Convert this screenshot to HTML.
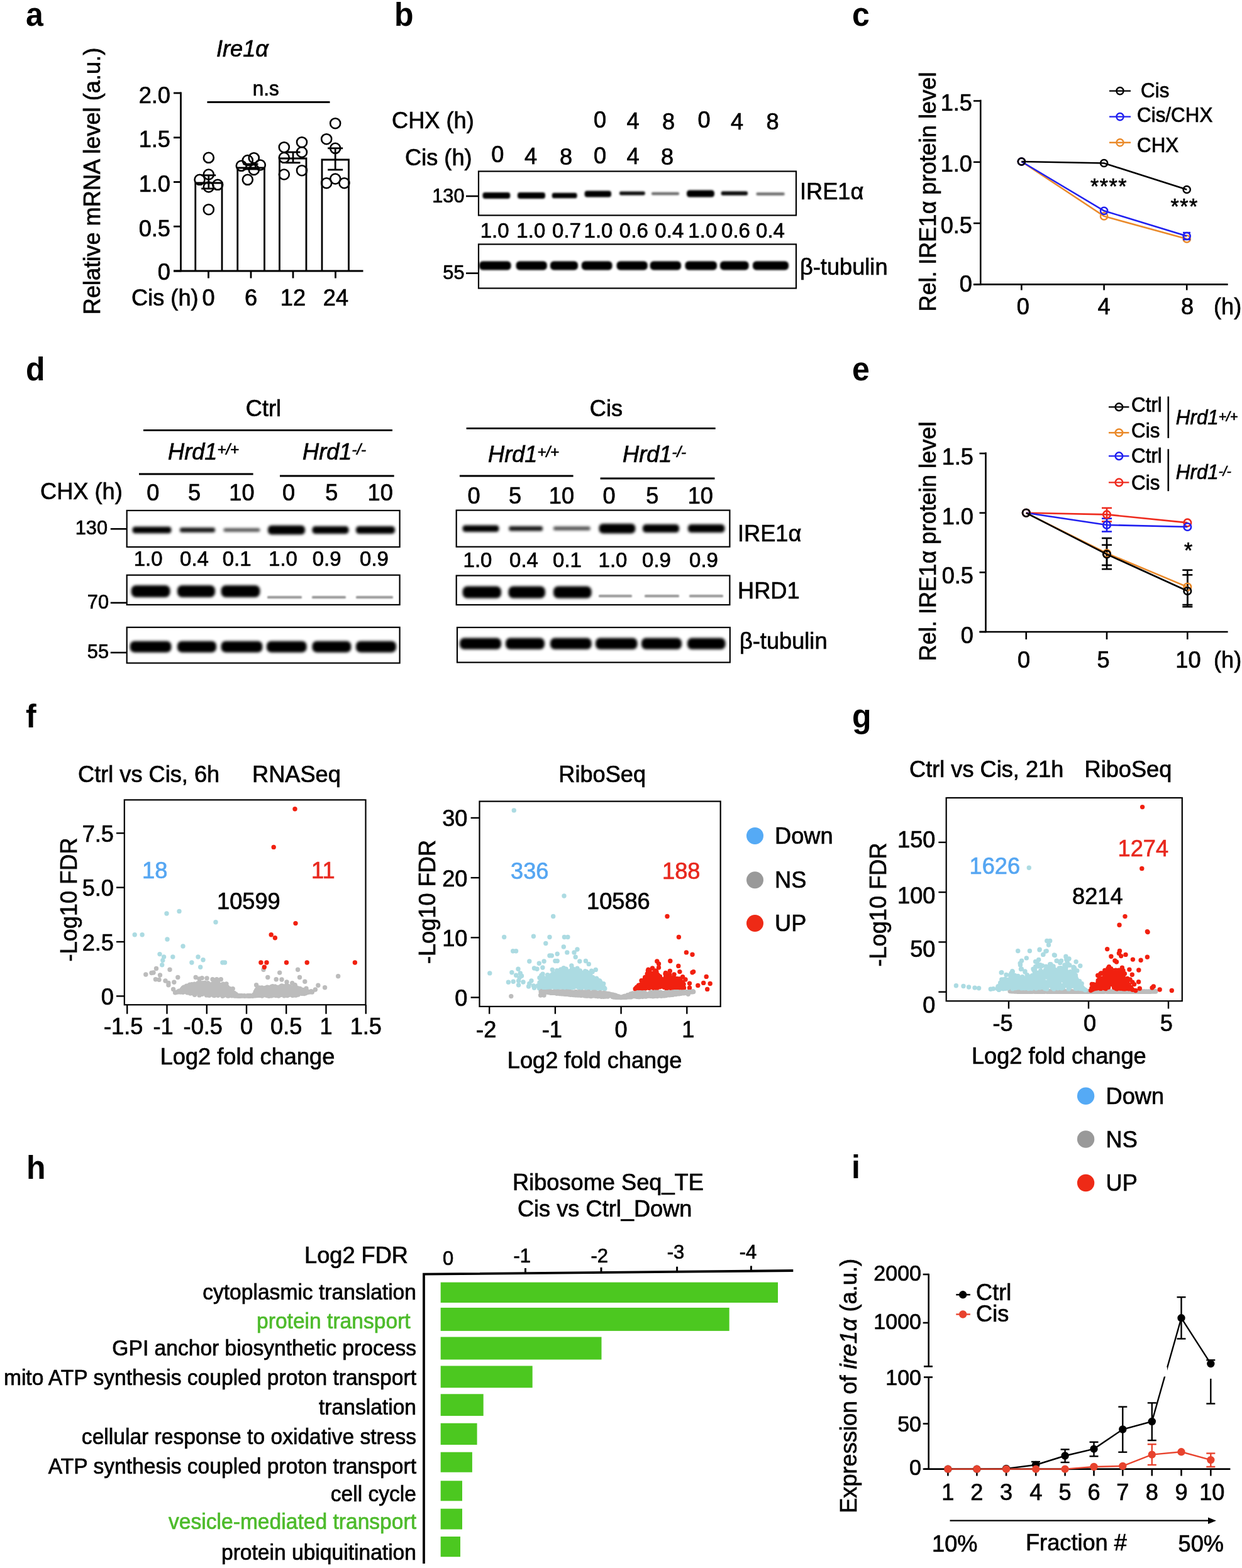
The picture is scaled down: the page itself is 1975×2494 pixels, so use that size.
<!DOCTYPE html><html><head><meta charset="utf-8"><title>Figure</title><style>html,body{margin:0;padding:0;background:#fff;}svg{display:block;}svg{font-family:"Liberation Sans",Arial,sans-serif;font-size:36.2px;}.b{font-weight:bold;}.i{font-style:italic;}</style></head><body><svg width="1975" height="2494" viewBox="0 0 1975 2494"><defs><filter id="bl12" x="-20%" y="-100%" width="140%" height="300%"><feGaussianBlur stdDeviation="1.2"/></filter><filter id="bl16" x="-20%" y="-100%" width="140%" height="300%"><feGaussianBlur stdDeviation="1.6"/></filter><filter id="bl22" x="-20%" y="-100%" width="140%" height="300%"><feGaussianBlur stdDeviation="2.2"/></filter></defs><rect width="100%" height="100%" fill="#fff"/><text transform="translate(41.0 41.0) scale(1 1.035)" font-size="50" class="b">a</text>
<text transform="translate(344.0 89.5) scale(1 1.035)" class="i" stroke="#000" stroke-width="0.7">Ire1α</text>
<text transform="translate(422.7 151.5) scale(1 1.035)" text-anchor="middle" font-size="31.5" stroke="#000" stroke-width="0.7">n.s</text>
<line x1="329.5" y1="162.5" x2="524.5" y2="162.5" stroke="#000" stroke-width="3"/>
<line x1="287.5" y1="146.5" x2="287.5" y2="432.3" stroke="#000" stroke-width="2.8"/>
<line x1="276.0" y1="431.0" x2="577.5" y2="431.0" stroke="#000" stroke-width="2.8"/>
<line x1="276.0" y1="431.0" x2="287.5" y2="431.0" stroke="#000" stroke-width="2.8"/>
<text transform="translate(271.0 444.5) scale(1 1.035)" text-anchor="end" stroke="#000" stroke-width="0.7">0</text>
<line x1="276.0" y1="360.2" x2="287.5" y2="360.2" stroke="#000" stroke-width="2.8"/>
<text transform="translate(271.0 375.8) scale(1 1.035)" text-anchor="end" stroke="#000" stroke-width="0.7">0.5</text>
<line x1="276.0" y1="289.5" x2="287.5" y2="289.5" stroke="#000" stroke-width="2.8"/>
<text transform="translate(271.0 305.0) scale(1 1.035)" text-anchor="end" stroke="#000" stroke-width="0.7">1.0</text>
<line x1="276.0" y1="218.8" x2="287.5" y2="218.8" stroke="#000" stroke-width="2.8"/>
<text transform="translate(271.0 234.2) scale(1 1.035)" text-anchor="end" stroke="#000" stroke-width="0.7">1.5</text>
<line x1="276.0" y1="148.0" x2="287.5" y2="148.0" stroke="#000" stroke-width="2.8"/>
<text transform="translate(271.0 163.5) scale(1 1.035)" text-anchor="end" stroke="#000" stroke-width="0.7">2.0</text>
<text transform="translate(331.5 486.0) scale(1 1.035)" text-anchor="middle" stroke="#000" stroke-width="0.7">0</text>
<text transform="translate(399.0 486.0) scale(1 1.035)" text-anchor="middle" stroke="#000" stroke-width="0.7">6</text>
<text transform="translate(466.0 486.0) scale(1 1.035)" text-anchor="middle" stroke="#000" stroke-width="0.7">12</text>
<text transform="translate(534.0 486.0) scale(1 1.035)" text-anchor="middle" stroke="#000" stroke-width="0.7">24</text>
<text transform="translate(209.0 486.0) scale(1 1.035)" stroke="#000" stroke-width="0.7">Cis (h)</text>
<line x1="331.5" y1="431.0" x2="331.5" y2="442.5" stroke="#000" stroke-width="2.8"/>
<line x1="399.0" y1="431.0" x2="399.0" y2="442.5" stroke="#000" stroke-width="2.8"/>
<line x1="466.0" y1="431.0" x2="466.0" y2="442.5" stroke="#000" stroke-width="2.8"/>
<line x1="533.5" y1="431.0" x2="533.5" y2="442.5" stroke="#000" stroke-width="2.8"/>
<text transform="translate(158.5 288.0) rotate(-90) scale(1 1.035)" text-anchor="middle" stroke="#000" stroke-width="0.7">Relative mRNA level (a.u.)</text>
<path d="M310.75 431V291H353V431" stroke="#000" stroke-width="2.8" fill="none"/>
<path d="M377.75 431V267H420.5V431" stroke="#000" stroke-width="2.8" fill="none"/>
<path d="M444.5 431V252H487V431" stroke="#000" stroke-width="2.8" fill="none"/>
<path d="M512 431V254H554.5V431" stroke="#000" stroke-width="2.8" fill="none"/>
<circle cx="331.8" cy="250.8" r="8.0" fill="none" stroke="#000" stroke-width="2.6"/>
<circle cx="331.8" cy="277.5" r="8.0" fill="none" stroke="#000" stroke-width="2.6"/>
<circle cx="317.5" cy="285.8" r="8.0" fill="none" stroke="#000" stroke-width="2.6"/>
<circle cx="346.2" cy="293.8" r="8.0" fill="none" stroke="#000" stroke-width="2.6"/>
<circle cx="331.8" cy="297.5" r="8.0" fill="none" stroke="#000" stroke-width="2.6"/>
<circle cx="331.8" cy="333.2" r="8.0" fill="none" stroke="#000" stroke-width="2.6"/>
<circle cx="393.8" cy="255.0" r="8.0" fill="none" stroke="#000" stroke-width="2.6"/>
<circle cx="403.8" cy="251.2" r="8.0" fill="none" stroke="#000" stroke-width="2.6"/>
<circle cx="383.8" cy="263.8" r="8.0" fill="none" stroke="#000" stroke-width="2.6"/>
<circle cx="413.8" cy="262.5" r="8.0" fill="none" stroke="#000" stroke-width="2.6"/>
<circle cx="403.8" cy="270.0" r="8.0" fill="none" stroke="#000" stroke-width="2.6"/>
<circle cx="393.8" cy="285.8" r="8.0" fill="none" stroke="#000" stroke-width="2.6"/>
<circle cx="451.8" cy="234.2" r="8.0" fill="none" stroke="#000" stroke-width="2.6"/>
<circle cx="480.0" cy="226.2" r="8.0" fill="none" stroke="#000" stroke-width="2.6"/>
<circle cx="480.0" cy="242.0" r="8.0" fill="none" stroke="#000" stroke-width="2.6"/>
<circle cx="451.8" cy="250.8" r="8.0" fill="none" stroke="#000" stroke-width="2.6"/>
<circle cx="480.0" cy="271.2" r="8.0" fill="none" stroke="#000" stroke-width="2.6"/>
<circle cx="451.8" cy="277.5" r="8.0" fill="none" stroke="#000" stroke-width="2.6"/>
<circle cx="533.2" cy="196.2" r="8.0" fill="none" stroke="#000" stroke-width="2.6"/>
<circle cx="519.2" cy="221.2" r="8.0" fill="none" stroke="#000" stroke-width="2.6"/>
<circle cx="533.2" cy="235.8" r="8.0" fill="none" stroke="#000" stroke-width="2.6"/>
<circle cx="519.2" cy="291.2" r="8.0" fill="none" stroke="#000" stroke-width="2.6"/>
<circle cx="533.2" cy="284.5" r="8.0" fill="none" stroke="#000" stroke-width="2.6"/>
<circle cx="547.5" cy="291.2" r="8.0" fill="none" stroke="#000" stroke-width="2.6"/>
<line x1="331.8" y1="300.0" x2="331.8" y2="278.8" stroke="#000" stroke-width="2.8"/>
<line x1="320.2" y1="300.0" x2="343.2" y2="300.0" stroke="#000" stroke-width="2.8"/>
<line x1="320.2" y1="278.8" x2="343.2" y2="278.8" stroke="#000" stroke-width="2.8"/>
<line x1="398.5" y1="269.0" x2="398.5" y2="261.0" stroke="#000" stroke-width="2.8"/>
<line x1="386.5" y1="269.0" x2="410.5" y2="269.0" stroke="#000" stroke-width="2.8"/>
<line x1="386.5" y1="261.0" x2="410.5" y2="261.0" stroke="#000" stroke-width="2.8"/>
<line x1="466.0" y1="258.8" x2="466.0" y2="242.0" stroke="#000" stroke-width="2.8"/>
<line x1="454.5" y1="258.8" x2="477.5" y2="258.8" stroke="#000" stroke-width="2.8"/>
<line x1="454.5" y1="242.0" x2="477.5" y2="242.0" stroke="#000" stroke-width="2.8"/>
<line x1="533.2" y1="270.0" x2="533.2" y2="235.8" stroke="#000" stroke-width="2.8"/>
<line x1="521.2" y1="270.0" x2="545.2" y2="270.0" stroke="#000" stroke-width="2.8"/>
<line x1="521.2" y1="235.8" x2="545.2" y2="235.8" stroke="#000" stroke-width="2.8"/>
<text transform="translate(627.0 41.0) scale(1 1.035)" font-size="50" class="b">b</text>
<text transform="translate(623.0 204.0) scale(1 1.035)" stroke="#000" stroke-width="0.7">CHX (h)</text>
<text transform="translate(644.0 263.0) scale(1 1.035)" stroke="#000" stroke-width="0.7">Cis (h)</text>
<text transform="translate(954.0 203.0) scale(1 1.035)" text-anchor="middle" stroke="#000" stroke-width="0.7">0</text>
<text transform="translate(1006.6 204.5) scale(1 1.035)" text-anchor="middle" stroke="#000" stroke-width="0.7">4</text>
<text transform="translate(1063.0 205.5) scale(1 1.035)" text-anchor="middle" stroke="#000" stroke-width="0.7">8</text>
<text transform="translate(1119.6 202.5) scale(1 1.035)" text-anchor="middle" stroke="#000" stroke-width="0.7">0</text>
<text transform="translate(1172.0 206.0) scale(1 1.035)" text-anchor="middle" stroke="#000" stroke-width="0.7">4</text>
<text transform="translate(1228.6 206.0) scale(1 1.035)" text-anchor="middle" stroke="#000" stroke-width="0.7">8</text>
<text transform="translate(791.4 258.0) scale(1 1.035)" text-anchor="middle" stroke="#000" stroke-width="0.7">0</text>
<text transform="translate(844.0 261.0) scale(1 1.035)" text-anchor="middle" stroke="#000" stroke-width="0.7">4</text>
<text transform="translate(900.0 262.0) scale(1 1.035)" text-anchor="middle" stroke="#000" stroke-width="0.7">8</text>
<text transform="translate(954.0 260.0) scale(1 1.035)" text-anchor="middle" stroke="#000" stroke-width="0.7">0</text>
<text transform="translate(1006.6 261.0) scale(1 1.035)" text-anchor="middle" stroke="#000" stroke-width="0.7">4</text>
<text transform="translate(1061.0 262.0) scale(1 1.035)" text-anchor="middle" stroke="#000" stroke-width="0.7">8</text>
<rect x="761.0" y="272.5" width="505.0" height="70.0" fill="none" stroke="#000" stroke-width="2.2"/>
<rect x="761.0" y="388.5" width="505.0" height="70.0" fill="none" stroke="#000" stroke-width="2.2"/>
<text transform="translate(738.5 321.9) scale(1 1.035)" text-anchor="end" font-size="30.7" stroke="#000" stroke-width="0.7">130</text>
<line x1="741.0" y1="312.0" x2="761.0" y2="312.0" stroke="#000" stroke-width="2.6"/>
<text transform="translate(738.5 444.0) scale(1 1.035)" text-anchor="end" font-size="30.7" stroke="#000" stroke-width="0.7">55</text>
<line x1="741.0" y1="434.6" x2="761.0" y2="434.6" stroke="#000" stroke-width="2.6"/>
<text transform="translate(1272.0 317.0) scale(1 1.035)" stroke="#000" stroke-width="0.7">IRE1α</text>
<text transform="translate(1272.0 436.5) scale(1 1.035)" stroke="#000" stroke-width="0.7">β-tubulin</text>
<text transform="translate(786.7 377.7) scale(1 1.035)" text-anchor="middle" font-size="33" stroke="#000" stroke-width="0.7">1.0</text>
<text transform="translate(844.3 377.7) scale(1 1.035)" text-anchor="middle" font-size="33" stroke="#000" stroke-width="0.7">1.0</text>
<text transform="translate(901.0 377.7) scale(1 1.035)" text-anchor="middle" font-size="33" stroke="#000" stroke-width="0.7">0.7</text>
<text transform="translate(951.5 377.7) scale(1 1.035)" text-anchor="middle" font-size="33" stroke="#000" stroke-width="0.7">1.0</text>
<text transform="translate(1007.8 377.7) scale(1 1.035)" text-anchor="middle" font-size="33" stroke="#000" stroke-width="0.7">0.6</text>
<text transform="translate(1064.3 377.7) scale(1 1.035)" text-anchor="middle" font-size="33" stroke="#000" stroke-width="0.7">0.4</text>
<text transform="translate(1117.3 377.7) scale(1 1.035)" text-anchor="middle" font-size="33" stroke="#000" stroke-width="0.7">1.0</text>
<text transform="translate(1170.0 377.7) scale(1 1.035)" text-anchor="middle" font-size="33" stroke="#000" stroke-width="0.7">0.6</text>
<text transform="translate(1225.0 377.7) scale(1 1.035)" text-anchor="middle" font-size="33" stroke="#000" stroke-width="0.7">0.4</text>
<rect x="767.5" y="306.0" width="43.8" height="10.0" rx="4.0" fill="#000" fill-opacity="1.0" filter="url(#bl16)"/>
<rect x="823.0" y="306.0" width="44.0" height="10.0" rx="4.0" fill="#000" fill-opacity="1.0" filter="url(#bl16)"/>
<rect x="877.8" y="306.8" width="39.8" height="8.5" rx="3.4" fill="#000" fill-opacity="1.0" filter="url(#bl16)"/>
<rect x="929.6" y="303.5" width="42.4" height="10.0" rx="4.0" fill="#000" fill-opacity="1.0" filter="url(#bl16)"/>
<rect x="985.0" y="304.5" width="40.8" height="6.0" rx="2.4" fill="#000" fill-opacity="0.95" filter="url(#bl16)"/>
<rect x="1036.0" y="305.8" width="44.0" height="4.5" rx="1.8" fill="#000" fill-opacity="0.6" filter="url(#bl16)"/>
<rect x="1092.0" y="302.5" width="44.0" height="11.0" rx="4.4" fill="#000" fill-opacity="1.0" filter="url(#bl16)"/>
<rect x="1146.7" y="304.2" width="42.3" height="6.5" rx="2.6" fill="#000" fill-opacity="0.95" filter="url(#bl16)"/>
<rect x="1202.5" y="306.2" width="45.2" height="4.5" rx="1.8" fill="#000" fill-opacity="0.6" filter="url(#bl16)"/>
<rect x="762.0" y="415.5" width="50.6" height="14.0" rx="5.6" fill="#000" fill-opacity="1.0" filter="url(#bl16)"/>
<rect x="820.6" y="415.5" width="49.2" height="14.0" rx="5.6" fill="#000" fill-opacity="1.0" filter="url(#bl16)"/>
<rect x="875.0" y="415.5" width="44.0" height="14.0" rx="5.6" fill="#000" fill-opacity="1.0" filter="url(#bl16)"/>
<rect x="924.8" y="415.5" width="48.7" height="14.0" rx="5.6" fill="#000" fill-opacity="1.0" filter="url(#bl16)"/>
<rect x="980.6" y="415.5" width="49.1" height="14.0" rx="5.6" fill="#000" fill-opacity="1.0" filter="url(#bl16)"/>
<rect x="1033.7" y="415.5" width="49.3" height="14.0" rx="5.6" fill="#000" fill-opacity="1.0" filter="url(#bl16)"/>
<rect x="1089.5" y="415.5" width="50.5" height="14.0" rx="5.6" fill="#000" fill-opacity="1.0" filter="url(#bl16)"/>
<rect x="1145.0" y="415.5" width="45.6" height="14.0" rx="5.6" fill="#000" fill-opacity="1.0" filter="url(#bl16)"/>
<rect x="1197.0" y="415.5" width="57.0" height="14.0" rx="5.6" fill="#000" fill-opacity="1.0" filter="url(#bl16)"/>
<text transform="translate(1355.0 41.0) scale(1 1.035)" font-size="50" class="b">c</text>
<line x1="1559.3" y1="158.8" x2="1559.3" y2="453.6" stroke="#000" stroke-width="2.6"/>
<line x1="1548.0" y1="452.4" x2="1952.6" y2="452.4" stroke="#000" stroke-width="2.6"/>
<line x1="1548.0" y1="452.4" x2="1559.3" y2="452.4" stroke="#000" stroke-width="2.6"/>
<text transform="translate(1546.0 464.4) scale(1 1.035)" text-anchor="end" stroke="#000" stroke-width="0.7">0</text>
<line x1="1548.0" y1="355.1" x2="1559.3" y2="355.1" stroke="#000" stroke-width="2.6"/>
<text transform="translate(1546.0 370.6) scale(1 1.035)" text-anchor="end" stroke="#000" stroke-width="0.7">0.5</text>
<line x1="1548.0" y1="257.8" x2="1559.3" y2="257.8" stroke="#000" stroke-width="2.6"/>
<text transform="translate(1546.0 273.3) scale(1 1.035)" text-anchor="end" stroke="#000" stroke-width="0.7">1.0</text>
<line x1="1548.0" y1="160.5" x2="1559.3" y2="160.5" stroke="#000" stroke-width="2.6"/>
<text transform="translate(1546.0 176.0) scale(1 1.035)" text-anchor="end" stroke="#000" stroke-width="0.7">1.5</text>
<line x1="1624.4" y1="452.4" x2="1624.4" y2="461.5" stroke="#000" stroke-width="2.6"/>
<text transform="translate(1626.9 500.0) scale(1 1.035)" text-anchor="middle" stroke="#000" stroke-width="0.7">0</text>
<line x1="1755.6" y1="452.4" x2="1755.6" y2="461.5" stroke="#000" stroke-width="2.6"/>
<text transform="translate(1755.6 500.0) scale(1 1.035)" text-anchor="middle" stroke="#000" stroke-width="0.7">4</text>
<line x1="1887.2" y1="452.4" x2="1887.2" y2="461.5" stroke="#000" stroke-width="2.6"/>
<text transform="translate(1888.0 500.0) scale(1 1.035)" text-anchor="middle" stroke="#000" stroke-width="0.7">8</text>
<text transform="translate(1930.0 500.0) scale(1 1.035)" stroke="#000" stroke-width="0.7">(h)</text>
<text transform="translate(1487.5 305.0) rotate(-90) scale(1 1.035)" text-anchor="middle" stroke="#000" stroke-width="0.7">Rel. IRE1α protein level</text>
<path d="M1624.4 257L1755.6 343.9L1887.2 380" stroke="#ea8a2a" stroke-width="2.6" fill="none"/>
<circle cx="1624.4" cy="257.0" r="5.6" fill="none" stroke="#ea8a2a" stroke-width="2.5"/>
<circle cx="1755.6" cy="343.9" r="5.6" fill="none" stroke="#ea8a2a" stroke-width="2.5"/>
<circle cx="1887.2" cy="380.0" r="5.6" fill="none" stroke="#ea8a2a" stroke-width="2.5"/>
<path d="M1624.4 257L1755.6 335.3L1887.2 375.5" stroke="#2020f0" stroke-width="2.6" fill="none"/>
<circle cx="1624.4" cy="257.0" r="5.6" fill="none" stroke="#2020f0" stroke-width="2.5"/>
<circle cx="1755.6" cy="335.3" r="5.6" fill="none" stroke="#2020f0" stroke-width="2.5"/>
<circle cx="1887.2" cy="375.5" r="5.6" fill="none" stroke="#2020f0" stroke-width="2.5"/>
<path d="M1624.4 257L1755.6 259.5L1887.2 301.5" stroke="#000" stroke-width="2.6" fill="none"/>
<circle cx="1624.4" cy="257.0" r="5.6" fill="none" stroke="#000" stroke-width="2.5"/>
<circle cx="1755.6" cy="259.5" r="5.6" fill="none" stroke="#000" stroke-width="2.5"/>
<circle cx="1887.2" cy="301.5" r="5.6" fill="none" stroke="#000" stroke-width="2.5"/>
<line x1="1881.0" y1="370.0" x2="1893.0" y2="370.0" stroke="#2020f0" stroke-width="2.4"/>
<line x1="1881.0" y1="381.0" x2="1893.0" y2="381.0" stroke="#2020f0" stroke-width="2.4"/>
<text transform="translate(1734.0 307.6) scale(1 1.035)" font-size="34" stroke="#000" stroke-width="0.7" letter-spacing="1.5">****</text>
<text transform="translate(1861.5 340.2) scale(1 1.035)" font-size="34" stroke="#000" stroke-width="0.7" letter-spacing="1.5">***</text>
<line x1="1764.0" y1="144.6" x2="1798.0" y2="144.6" stroke="#000" stroke-width="2.4"/>
<circle cx="1781.0" cy="144.6" r="5.6" fill="none" stroke="#000" stroke-width="2.4"/>
<text transform="translate(1814.0 154.5) scale(1 1.035)" font-size="31.4" stroke="#000" stroke-width="0.7">Cis</text>
<line x1="1764.0" y1="185.6" x2="1798.0" y2="185.6" stroke="#2020f0" stroke-width="2.4"/>
<circle cx="1781.0" cy="185.6" r="5.6" fill="none" stroke="#2020f0" stroke-width="2.4"/>
<text transform="translate(1808.0 194.4) scale(1 1.035)" font-size="31.4" stroke="#000" stroke-width="0.7">Cis/CHX</text>
<line x1="1764.0" y1="226.8" x2="1798.0" y2="226.8" stroke="#ea8a2a" stroke-width="2.4"/>
<circle cx="1781.0" cy="226.8" r="5.6" fill="none" stroke="#ea8a2a" stroke-width="2.4"/>
<text transform="translate(1808.0 241.8) scale(1 1.035)" font-size="31.4" stroke="#000" stroke-width="0.7">CHX</text>
<text transform="translate(41.0 605.0) scale(1 1.035)" font-size="50" class="b">d</text>
<text transform="translate(419.0 662.4) scale(1 1.035)" text-anchor="middle" stroke="#000" stroke-width="0.7">Ctrl</text>
<line x1="228.0" y1="684.4" x2="624.0" y2="684.4" stroke="#000" stroke-width="2.8"/>
<text transform="translate(267.0 731.4) scale(1 1.035)" class="i" stroke="#000" stroke-width="0.7">Hrd1<tspan font-size="24" dy="-8">+/+</tspan></text>
<text transform="translate(481.0 731.4) scale(1 1.035)" class="i" stroke="#000" stroke-width="0.7">Hrd1<tspan font-size="24" dy="-8">-/-</tspan></text>
<line x1="221.0" y1="754.0" x2="402.6" y2="754.0" stroke="#000" stroke-width="2.8"/>
<line x1="445.0" y1="757.0" x2="626.7" y2="757.0" stroke="#000" stroke-width="2.8"/>
<text transform="translate(64.0 794.0) scale(1 1.035)" stroke="#000" stroke-width="0.7">CHX (h)</text>
<text transform="translate(243.4 796.0) scale(1 1.035)" text-anchor="middle" stroke="#000" stroke-width="0.7">0</text>
<text transform="translate(309.0 796.0) scale(1 1.035)" text-anchor="middle" stroke="#000" stroke-width="0.7">5</text>
<text transform="translate(384.5 796.0) scale(1 1.035)" text-anchor="middle" stroke="#000" stroke-width="0.7">10</text>
<text transform="translate(459.0 796.0) scale(1 1.035)" text-anchor="middle" stroke="#000" stroke-width="0.7">0</text>
<text transform="translate(527.4 796.0) scale(1 1.035)" text-anchor="middle" stroke="#000" stroke-width="0.7">5</text>
<text transform="translate(604.7 796.0) scale(1 1.035)" text-anchor="middle" stroke="#000" stroke-width="0.7">10</text>
<rect x="201.7" y="812.0" width="433.9" height="58.0" fill="none" stroke="#000" stroke-width="2.2"/>
<rect x="201.7" y="914.7" width="433.9" height="47.2" fill="none" stroke="#000" stroke-width="2.2"/>
<rect x="201.7" y="997.8" width="433.9" height="56.8" fill="none" stroke="#000" stroke-width="2.2"/>
<text transform="translate(171.0 850.0) scale(1 1.035)" text-anchor="end" font-size="30.7" stroke="#000" stroke-width="0.7">130</text>
<line x1="175.8" y1="841.3" x2="201.7" y2="841.3" stroke="#000" stroke-width="2.6"/>
<text transform="translate(173.0 967.6) scale(1 1.035)" text-anchor="end" font-size="30.7" stroke="#000" stroke-width="0.7">70</text>
<line x1="175.8" y1="958.8" x2="201.7" y2="958.8" stroke="#000" stroke-width="2.6"/>
<text transform="translate(173.0 1046.5) scale(1 1.035)" text-anchor="end" font-size="30.7" stroke="#000" stroke-width="0.7">55</text>
<line x1="175.8" y1="1038.0" x2="201.7" y2="1038.0" stroke="#000" stroke-width="2.6"/>
<text transform="translate(235.7 900.0) scale(1 1.035)" text-anchor="middle" font-size="33" stroke="#000" stroke-width="0.7">1.0</text>
<text transform="translate(309.0 900.0) scale(1 1.035)" text-anchor="middle" font-size="33" stroke="#000" stroke-width="0.7">0.4</text>
<text transform="translate(376.7 900.0) scale(1 1.035)" text-anchor="middle" font-size="33" stroke="#000" stroke-width="0.7">0.1</text>
<text transform="translate(450.0 900.0) scale(1 1.035)" text-anchor="middle" font-size="33" stroke="#000" stroke-width="0.7">1.0</text>
<text transform="translate(519.7 900.0) scale(1 1.035)" text-anchor="middle" font-size="33" stroke="#000" stroke-width="0.7">0.9</text>
<text transform="translate(595.0 900.0) scale(1 1.035)" text-anchor="middle" font-size="33" stroke="#000" stroke-width="0.7">0.9</text>
<rect x="210.6" y="837.8" width="61.8" height="10.5" rx="4.2" fill="#000" fill-opacity="1.0" filter="url(#bl22)"/>
<rect x="286.0" y="839.2" width="56.0" height="7.5" rx="3.0" fill="#000" fill-opacity="0.92" filter="url(#bl22)"/>
<rect x="355.5" y="840.2" width="57.9" height="5.5" rx="2.2" fill="#000" fill-opacity="0.7" filter="url(#bl22)"/>
<rect x="426.0" y="835.8" width="59.0" height="14.5" rx="5.8" fill="#000" fill-opacity="1.0" filter="url(#bl22)"/>
<rect x="496.5" y="837.0" width="58.0" height="12.0" rx="4.8" fill="#000" fill-opacity="1.0" filter="url(#bl22)"/>
<rect x="566.0" y="837.0" width="62.0" height="12.0" rx="4.8" fill="#000" fill-opacity="1.0" filter="url(#bl22)"/>
<rect x="208.7" y="931.1" width="61.8" height="19.0" rx="7.6" fill="#000" fill-opacity="1.0" filter="url(#bl22)"/>
<rect x="282.0" y="931.1" width="60.0" height="19.0" rx="7.6" fill="#000" fill-opacity="1.0" filter="url(#bl22)"/>
<rect x="351.6" y="931.1" width="61.8" height="19.0" rx="7.6" fill="#000" fill-opacity="1.0" filter="url(#bl22)"/>
<rect x="425.0" y="948.0" width="55.0" height="4.0" rx="1.6" fill="#000" fill-opacity="0.42" filter="url(#bl12)"/>
<rect x="496.0" y="948.0" width="54.0" height="4.0" rx="1.6" fill="#000" fill-opacity="0.42" filter="url(#bl12)"/>
<rect x="566.0" y="948.0" width="59.0" height="4.0" rx="1.6" fill="#000" fill-opacity="0.42" filter="url(#bl12)"/>
<rect x="206.7" y="1019.7" width="65.7" height="18.0" rx="7.2" fill="#000" fill-opacity="1.0" filter="url(#bl22)"/>
<rect x="282.0" y="1019.7" width="62.0" height="18.0" rx="7.2" fill="#000" fill-opacity="1.0" filter="url(#bl22)"/>
<rect x="351.6" y="1019.7" width="65.7" height="18.0" rx="7.2" fill="#000" fill-opacity="1.0" filter="url(#bl22)"/>
<rect x="424.0" y="1019.7" width="63.6" height="18.0" rx="7.2" fill="#000" fill-opacity="1.0" filter="url(#bl22)"/>
<rect x="496.5" y="1019.7" width="61.8" height="18.0" rx="7.2" fill="#000" fill-opacity="1.0" filter="url(#bl22)"/>
<rect x="566.0" y="1019.7" width="64.0" height="18.0" rx="7.2" fill="#000" fill-opacity="1.0" filter="url(#bl22)"/>
<text transform="translate(964.0 661.5) scale(1 1.035)" text-anchor="middle" stroke="#000" stroke-width="0.7">Cis</text>
<line x1="741.6" y1="681.4" x2="1137.7" y2="681.4" stroke="#000" stroke-width="2.8"/>
<text transform="translate(776.0 735.0) scale(1 1.035)" class="i" stroke="#000" stroke-width="0.7">Hrd1<tspan font-size="24" dy="-8">+/+</tspan></text>
<text transform="translate(990.0 735.0) scale(1 1.035)" class="i" stroke="#000" stroke-width="0.7">Hrd1<tspan font-size="24" dy="-8">-/-</tspan></text>
<line x1="730.9" y1="757.0" x2="911.6" y2="757.0" stroke="#000" stroke-width="2.8"/>
<line x1="954.6" y1="761.0" x2="1136.5" y2="761.0" stroke="#000" stroke-width="2.8"/>
<text transform="translate(753.5 800.8) scale(1 1.035)" text-anchor="middle" stroke="#000" stroke-width="0.7">0</text>
<text transform="translate(819.0 800.8) scale(1 1.035)" text-anchor="middle" stroke="#000" stroke-width="0.7">5</text>
<text transform="translate(892.9 800.8) scale(1 1.035)" text-anchor="middle" stroke="#000" stroke-width="0.7">10</text>
<text transform="translate(968.5 800.8) scale(1 1.035)" text-anchor="middle" stroke="#000" stroke-width="0.7">0</text>
<text transform="translate(1037.4 800.8) scale(1 1.035)" text-anchor="middle" stroke="#000" stroke-width="0.7">5</text>
<text transform="translate(1113.8 800.8) scale(1 1.035)" text-anchor="middle" stroke="#000" stroke-width="0.7">10</text>
<rect x="725.7" y="811.6" width="434.7" height="58.1" fill="none" stroke="#000" stroke-width="2.2"/>
<rect x="725.7" y="915.5" width="434.7" height="46.5" fill="none" stroke="#000" stroke-width="2.2"/>
<rect x="727.0" y="998.0" width="433.8" height="55.6" fill="none" stroke="#000" stroke-width="2.2"/>
<text transform="translate(1173.0 860.6) scale(1 1.035)" stroke="#000" stroke-width="0.7">IRE1α</text>
<text transform="translate(1173.0 952.0) scale(1 1.035)" stroke="#000" stroke-width="0.7">HRD1</text>
<text transform="translate(1176.0 1031.7) scale(1 1.035)" stroke="#000" stroke-width="0.7">β-tubulin</text>
<text transform="translate(759.5 901.6) scale(1 1.035)" text-anchor="middle" font-size="33" stroke="#000" stroke-width="0.7">1.0</text>
<text transform="translate(833.0 901.6) scale(1 1.035)" text-anchor="middle" font-size="33" stroke="#000" stroke-width="0.7">0.4</text>
<text transform="translate(902.0 901.6) scale(1 1.035)" text-anchor="middle" font-size="33" stroke="#000" stroke-width="0.7">0.1</text>
<text transform="translate(974.5 901.6) scale(1 1.035)" text-anchor="middle" font-size="33" stroke="#000" stroke-width="0.7">1.0</text>
<text transform="translate(1044.0 901.6) scale(1 1.035)" text-anchor="middle" font-size="33" stroke="#000" stroke-width="0.7">0.9</text>
<text transform="translate(1119.0 901.6) scale(1 1.035)" text-anchor="middle" font-size="33" stroke="#000" stroke-width="0.7">0.9</text>
<rect x="735.6" y="835.4" width="57.8" height="10.5" rx="4.2" fill="#000" fill-opacity="1.0" filter="url(#bl22)"/>
<rect x="809.3" y="836.9" width="53.7" height="7.5" rx="3.0" fill="#000" fill-opacity="0.92" filter="url(#bl22)"/>
<rect x="880.0" y="837.6" width="58.7" height="6.0" rx="2.4" fill="#000" fill-opacity="0.7" filter="url(#bl22)"/>
<rect x="952.6" y="832.9" width="57.7" height="15.5" rx="6.2" fill="#000" fill-opacity="1.0" filter="url(#bl22)"/>
<rect x="1022.0" y="834.1" width="58.0" height="13.0" rx="5.2" fill="#000" fill-opacity="1.0" filter="url(#bl22)"/>
<rect x="1094.0" y="834.1" width="58.4" height="13.0" rx="5.2" fill="#000" fill-opacity="1.0" filter="url(#bl22)"/>
<rect x="735.6" y="932.5" width="61.4" height="19.0" rx="7.6" fill="#000" fill-opacity="1.0" filter="url(#bl22)"/>
<rect x="808.5" y="932.5" width="58.5" height="19.0" rx="7.6" fill="#000" fill-opacity="1.0" filter="url(#bl22)"/>
<rect x="880.0" y="932.5" width="60.6" height="19.0" rx="7.6" fill="#000" fill-opacity="1.0" filter="url(#bl22)"/>
<rect x="952.0" y="946.0" width="53.0" height="4.0" rx="1.6" fill="#000" fill-opacity="0.42" filter="url(#bl12)"/>
<rect x="1025.0" y="946.0" width="55.0" height="4.0" rx="1.6" fill="#000" fill-opacity="0.42" filter="url(#bl12)"/>
<rect x="1096.0" y="946.0" width="54.0" height="4.0" rx="1.6" fill="#000" fill-opacity="0.42" filter="url(#bl12)"/>
<rect x="731.0" y="1014.8" width="66.0" height="18.0" rx="7.2" fill="#000" fill-opacity="1.0" filter="url(#bl22)"/>
<rect x="804.0" y="1014.8" width="62.0" height="18.0" rx="7.2" fill="#000" fill-opacity="1.0" filter="url(#bl22)"/>
<rect x="875.0" y="1014.8" width="65.6" height="18.0" rx="7.2" fill="#000" fill-opacity="1.0" filter="url(#bl22)"/>
<rect x="947.0" y="1014.8" width="66.5" height="18.0" rx="7.2" fill="#000" fill-opacity="1.0" filter="url(#bl22)"/>
<rect x="1020.0" y="1014.8" width="64.0" height="18.0" rx="7.2" fill="#000" fill-opacity="1.0" filter="url(#bl22)"/>
<rect x="1093.0" y="1014.8" width="60.6" height="18.0" rx="7.2" fill="#000" fill-opacity="1.0" filter="url(#bl22)"/>
<text transform="translate(1355.0 605.0) scale(1 1.035)" font-size="50" class="b">e</text>
<line x1="1567.5" y1="719.4" x2="1567.5" y2="1006.2" stroke="#000" stroke-width="2.6"/>
<line x1="1557.5" y1="1005.0" x2="1952.6" y2="1005.0" stroke="#000" stroke-width="2.6"/>
<line x1="1557.5" y1="1005.0" x2="1567.5" y2="1005.0" stroke="#000" stroke-width="2.6"/>
<text transform="translate(1548.0 1023.0) scale(1 1.035)" text-anchor="end" stroke="#000" stroke-width="0.7">0</text>
<line x1="1557.5" y1="910.4" x2="1567.5" y2="910.4" stroke="#000" stroke-width="2.6"/>
<text transform="translate(1548.0 928.4) scale(1 1.035)" text-anchor="end" stroke="#000" stroke-width="0.7">0.5</text>
<line x1="1557.5" y1="815.8" x2="1567.5" y2="815.8" stroke="#000" stroke-width="2.6"/>
<text transform="translate(1548.0 833.8) scale(1 1.035)" text-anchor="end" stroke="#000" stroke-width="0.7">1.0</text>
<line x1="1557.5" y1="721.2" x2="1567.5" y2="721.2" stroke="#000" stroke-width="2.6"/>
<text transform="translate(1548.0 739.2) scale(1 1.035)" text-anchor="end" stroke="#000" stroke-width="0.7">1.5</text>
<line x1="1631.8" y1="1005.0" x2="1631.8" y2="1017.0" stroke="#000" stroke-width="2.6"/>
<line x1="1760.0" y1="1005.0" x2="1760.0" y2="1017.0" stroke="#000" stroke-width="2.6"/>
<line x1="1888.3" y1="1005.0" x2="1888.3" y2="1017.0" stroke="#000" stroke-width="2.6"/>
<text transform="translate(1628.0 1062.0) scale(1 1.035)" text-anchor="middle" stroke="#000" stroke-width="0.7">0</text>
<text transform="translate(1754.5 1062.0) scale(1 1.035)" text-anchor="middle" stroke="#000" stroke-width="0.7">5</text>
<text transform="translate(1889.4 1062.0) scale(1 1.035)" text-anchor="middle" stroke="#000" stroke-width="0.7">10</text>
<text transform="translate(1930.0 1062.0) scale(1 1.035)" stroke="#000" stroke-width="0.7">(h)</text>
<text transform="translate(1487.5 861.0) rotate(-90) scale(1 1.035)" text-anchor="middle" stroke="#000" stroke-width="0.7">Rel. IRE1α protein level</text>
<line x1="1760.0" y1="808.0" x2="1760.0" y2="829.5" stroke="#ee2b1e" stroke-width="2.6"/>
<line x1="1752.0" y1="808.0" x2="1768.0" y2="808.0" stroke="#ee2b1e" stroke-width="2.6"/>
<line x1="1752.0" y1="829.5" x2="1768.0" y2="829.5" stroke="#ee2b1e" stroke-width="2.6"/>
<line x1="1760.0" y1="824.7" x2="1760.0" y2="845.5" stroke="#2020f0" stroke-width="2.6"/>
<line x1="1752.0" y1="824.7" x2="1768.0" y2="824.7" stroke="#2020f0" stroke-width="2.6"/>
<line x1="1752.0" y1="845.5" x2="1768.0" y2="845.5" stroke="#2020f0" stroke-width="2.6"/>
<line x1="1760.0" y1="866.8" x2="1760.0" y2="899.0" stroke="#000" stroke-width="2.6"/>
<line x1="1752.0" y1="866.8" x2="1768.0" y2="866.8" stroke="#000" stroke-width="2.6"/>
<line x1="1752.0" y1="899.0" x2="1768.0" y2="899.0" stroke="#000" stroke-width="2.6"/>
<line x1="1888.3" y1="914.4" x2="1888.3" y2="962.0" stroke="#000" stroke-width="2.6"/>
<line x1="1880.3" y1="914.4" x2="1896.3" y2="914.4" stroke="#000" stroke-width="2.6"/>
<line x1="1880.3" y1="962.0" x2="1896.3" y2="962.0" stroke="#000" stroke-width="2.6"/>
<line x1="1760.0" y1="856.0" x2="1760.0" y2="905.2" stroke="#000" stroke-width="2.6"/>
<line x1="1752.0" y1="856.0" x2="1768.0" y2="856.0" stroke="#000" stroke-width="2.6"/>
<line x1="1752.0" y1="905.2" x2="1768.0" y2="905.2" stroke="#000" stroke-width="2.6"/>
<line x1="1888.3" y1="906.7" x2="1888.3" y2="965.1" stroke="#000" stroke-width="2.6"/>
<line x1="1880.3" y1="906.7" x2="1896.3" y2="906.7" stroke="#000" stroke-width="2.6"/>
<line x1="1880.3" y1="965.1" x2="1896.3" y2="965.1" stroke="#000" stroke-width="2.6"/>
<path d="M1631.8 815.8L1760 818.4L1888.3 831.4" stroke="#ee2b1e" stroke-width="2.6" fill="none"/>
<circle cx="1631.8" cy="815.8" r="5.8" fill="none" stroke="#ee2b1e" stroke-width="2.6"/>
<circle cx="1760.0" cy="818.4" r="5.8" fill="none" stroke="#ee2b1e" stroke-width="2.6"/>
<circle cx="1888.3" cy="831.4" r="5.8" fill="none" stroke="#ee2b1e" stroke-width="2.6"/>
<path d="M1631.8 815.8L1760 835L1888.3 838" stroke="#2020f0" stroke-width="2.6" fill="none"/>
<circle cx="1631.8" cy="815.8" r="5.8" fill="none" stroke="#2020f0" stroke-width="2.6"/>
<circle cx="1760.0" cy="835.0" r="5.8" fill="none" stroke="#2020f0" stroke-width="2.6"/>
<circle cx="1888.3" cy="838.0" r="5.8" fill="none" stroke="#2020f0" stroke-width="2.6"/>
<path d="M1631.8 815.8L1760 880L1888.3 933.6" stroke="#ea8a2a" stroke-width="2.6" fill="none"/>
<circle cx="1631.8" cy="815.8" r="5.8" fill="none" stroke="#ea8a2a" stroke-width="2.6"/>
<circle cx="1760.0" cy="880.0" r="5.8" fill="none" stroke="#ea8a2a" stroke-width="2.6"/>
<circle cx="1888.3" cy="933.6" r="5.8" fill="none" stroke="#ea8a2a" stroke-width="2.6"/>
<path d="M1631.8 815.8L1760 881.6L1888.3 940" stroke="#000" stroke-width="2.6" fill="none"/>
<circle cx="1631.8" cy="815.8" r="5.8" fill="none" stroke="#000" stroke-width="2.6"/>
<circle cx="1760.0" cy="881.6" r="5.8" fill="none" stroke="#000" stroke-width="2.6"/>
<circle cx="1888.3" cy="940.0" r="5.8" fill="none" stroke="#000" stroke-width="2.6"/>
<text transform="translate(1883.0 887.0) scale(1 1.035)" font-size="34" stroke="#000" stroke-width="0.7">*</text>
<line x1="1763.0" y1="647.4" x2="1795.4" y2="647.4" stroke="#000" stroke-width="2.4"/>
<circle cx="1779.4" cy="647.4" r="5.8" fill="none" stroke="#000" stroke-width="2.5"/>
<text transform="translate(1799.0 655.3) scale(1 1.035)" font-size="31.4" stroke="#000" stroke-width="0.7">Ctrl</text>
<line x1="1763.0" y1="688.3" x2="1795.4" y2="688.3" stroke="#ea8a2a" stroke-width="2.4"/>
<circle cx="1779.4" cy="688.3" r="5.8" fill="none" stroke="#ea8a2a" stroke-width="2.5"/>
<text transform="translate(1799.0 696.4) scale(1 1.035)" font-size="31.4" stroke="#000" stroke-width="0.7">Cis</text>
<line x1="1763.0" y1="725.4" x2="1795.4" y2="725.4" stroke="#2020f0" stroke-width="2.4"/>
<circle cx="1779.4" cy="725.4" r="5.8" fill="none" stroke="#2020f0" stroke-width="2.5"/>
<text transform="translate(1799.0 736.0) scale(1 1.035)" font-size="31.4" stroke="#000" stroke-width="0.7">Ctrl</text>
<line x1="1763.0" y1="767.4" x2="1795.4" y2="767.4" stroke="#ee2b1e" stroke-width="2.4"/>
<circle cx="1779.4" cy="767.4" r="5.8" fill="none" stroke="#ee2b1e" stroke-width="2.5"/>
<text transform="translate(1799.0 778.8) scale(1 1.035)" font-size="31.4" stroke="#000" stroke-width="0.7">Cis</text>
<line x1="1857.8" y1="630.6" x2="1857.8" y2="696.8" stroke="#000" stroke-width="2.6"/>
<line x1="1857.8" y1="714.3" x2="1857.8" y2="781.2" stroke="#000" stroke-width="2.6"/>
<text transform="translate(1869.8 675.3) scale(1 1.035)" font-size="31.4" class="i" stroke="#000" stroke-width="0.7">Hrd1<tspan font-size="21" dy="-5">+/+</tspan></text>
<text transform="translate(1869.8 762.3) scale(1 1.035)" font-size="31.4" class="i" stroke="#000" stroke-width="0.7">Hrd1<tspan font-size="21" dy="-5">-/-</tspan></text>
<text transform="translate(41.0 1157.0) scale(1 1.035)" font-size="50" class="b">f</text>
<text transform="translate(124.0 1243.6) scale(1 1.035)" stroke="#000" stroke-width="0.7">Ctrl vs Cis, 6h</text>
<text transform="translate(401.0 1243.6) scale(1 1.035)" stroke="#000" stroke-width="0.7">RNASeq</text>
<path d="M330.1 1574.1h0M359.0 1577.5h0M415.0 1571.1h0M280.9 1578.2h0M334.8 1567.6h0M496.0 1578.0h0M461.2 1575.6h0M418.0 1572.1h0M417.0 1582.4h0M392.6 1584.1h0M425.0 1570.2h0M444.1 1577.5h0M344.0 1563.4h0M467.6 1575.6h0M435.4 1582.3h0M434.4 1583.0h0M364.5 1581.7h0M375.4 1584.1h0M470.5 1570.3h0M307.8 1568.4h0M489.4 1577.5h0M415.2 1574.4h0M389.1 1583.9h0M354.8 1576.3h0M406.0 1583.7h0M427.4 1583.2h0M465.6 1583.3h0M425.0 1571.7h0M466.5 1582.9h0M476.1 1577.4h0M434.3 1571.7h0M460.1 1577.1h0M340.4 1564.1h0M465.0 1583.3h0M297.4 1578.4h0M367.9 1576.1h0M342.4 1579.1h0M469.1 1569.3h0M412.6 1571.1h0M435.3 1573.5h0M470.9 1582.8h0M388.7 1584.3h0M345.8 1564.4h0M409.3 1572.3h0M321.2 1571.1h0M411.7 1572.7h0M287.3 1578.0h0M346.7 1583.3h0M474.4 1575.0h0M378.8 1584.0h0M419.0 1578.4h0M400.5 1584.1h0M484.0 1577.4h0M372.4 1582.8h0M330.0 1569.0h0M492.1 1577.8h0M398.1 1583.7h0M368.9 1580.7h0M282.4 1577.7h0M416.4 1570.9h0M415.4 1576.8h0M426.8 1574.4h0M432.8 1580.1h0M282.9 1577.6h0M426.0 1583.7h0M333.0 1572.3h0M407.8 1577.8h0M357.7 1572.1h0M358.8 1577.4h0M343.8 1570.8h0M447.1 1568.4h0M402.7 1584.1h0M345.9 1567.5h0M454.0 1571.9h0M319.0 1571.7h0M430.9 1570.2h0M348.5 1569.9h0M460.5 1575.1h0M465.4 1571.1h0M351.7 1577.0h0M471.8 1575.5h0M327.3 1565.2h0M394.0 1583.8h0M454.7 1581.3h0M318.2 1568.6h0M454.8 1578.2h0M454.6 1573.6h0M306.4 1569.9h0M451.9 1572.4h0M353.9 1572.8h0M369.9 1579.8h0M479.6 1573.9h0M279.0 1578.7h0M470.7 1583.0h0M373.1 1584.1h0M481.1 1574.9h0M441.3 1581.6h0M423.2 1577.1h0M341.3 1570.0h0M327.8 1564.1h0M406.9 1578.7h0M455.4 1568.9h0M475.9 1578.7h0M480.3 1580.4h0M475.0 1577.4h0M280.9 1578.2h0M315.6 1569.2h0M423.2 1577.2h0M368.6 1583.8h0M412.1 1575.2h0M333.3 1580.8h0M382.5 1584.2h0M355.1 1569.0h0M395.1 1584.2h0M315.5 1578.9h0M479.9 1579.6h0M458.3 1568.4h0M415.7 1582.4h0M288.9 1574.3h0M336.8 1573.9h0M370.6 1580.6h0M448.1 1568.0h0M290.0 1572.7h0M305.3 1566.1h0M491.5 1578.0h0M296.9 1574.3h0M347.2 1569.5h0M354.9 1577.5h0M406.5 1579.8h0M319.8 1569.5h0M305.1 1574.5h0M434.8 1574.3h0M295.5 1570.6h0M359.7 1577.7h0M449.4 1574.1h0M453.5 1577.9h0M372.5 1581.1h0M386.7 1584.1h0M370.1 1582.0h0M378.9 1583.8h0M395.3 1584.1h0M293.7 1574.1h0M371.3 1583.5h0M483.1 1576.5h0M474.6 1579.9h0M335.4 1572.5h0M305.0 1579.0h0M423.0 1582.6h0M451.6 1578.7h0M438.7 1577.1h0M300.6 1575.2h0M279.1 1578.7h0M447.6 1568.7h0M298.1 1568.3h0M470.8 1571.6h0M283.1 1577.6h0M304.6 1579.5h0M425.5 1581.8h0M486.6 1577.9h0M452.9 1568.7h0M446.1 1576.2h0M434.6 1570.0h0M442.0 1583.2h0M291.4 1573.7h0M401.5 1584.2h0M331.0 1566.5h0M332.7 1575.7h0M443.0 1574.3h0M358.5 1573.8h0M354.7 1573.1h0M296.2 1574.4h0M491.1 1577.7h0M441.7 1570.4h0M429.3 1580.5h0M425.6 1577.0h0M383.9 1584.1h0M474.5 1572.3h0M299.0 1577.7h0M478.7 1577.0h0M375.0 1583.4h0M318.8 1568.3h0M321.6 1574.8h0M347.0 1567.7h0M429.4 1583.6h0M342.8 1577.8h0M368.5 1583.0h0M406.0 1579.7h0M325.7 1563.2h0M383.0 1583.9h0M315.7 1570.4h0M348.5 1579.4h0M309.5 1582.3h0M383.0 1584.1h0M380.5 1584.2h0M457.9 1576.9h0M383.4 1584.1h0M465.6 1574.5h0M438.7 1583.6h0M380.4 1583.8h0M329.4 1577.7h0M425.9 1583.7h0M465.0 1572.1h0M319.5 1568.1h0M319.0 1577.2h0M466.0 1581.9h0M333.8 1580.9h0M346.6 1571.8h0M437.6 1569.3h0M298.3 1578.9h0M341.9 1570.3h0M405.1 1582.8h0M279.5 1578.6h0M373.5 1582.1h0M324.0 1574.8h0M487.2 1577.2h0M397.2 1583.8h0M338.2 1576.8h0M302.6 1580.1h0M477.0 1572.5h0M484.1 1576.6h0M447.2 1580.1h0M342.7 1577.1h0M421.2 1581.4h0M336.2 1578.6h0M488.5 1578.2h0M395.4 1583.8h0M386.2 1583.9h0M435.3 1579.1h0M402.0 1583.8h0M419.4 1578.9h0M317.2 1580.9h0M421.5 1571.4h0M482.1 1574.6h0M350.6 1578.3h0M408.8 1579.2h0M419.8 1576.4h0M346.4 1566.5h0M293.0 1577.2h0M443.2 1576.7h0M440.0 1573.7h0M336.2 1570.8h0M469.1 1569.3h0M388.5 1583.8h0M446.4 1573.6h0M350.9 1571.7h0M396.6 1584.2h0M355.3 1581.4h0M302.6 1569.8h0M299.8 1567.6h0M448.6 1579.6h0M318.5 1566.8h0M369.2 1582.2h0M456.6 1579.9h0M407.6 1576.4h0M365.3 1574.3h0M393.5 1584.0h0M322.3 1567.9h0M449.2 1568.5h0M453.9 1582.1h0M485.9 1577.0h0M399.0 1584.0h0M416.8 1584.0h0M428.4 1573.5h0M466.3 1575.8h0M409.7 1580.7h0M278.5 1578.8h0M423.0 1576.7h0M392.7 1584.0h0M320.4 1573.6h0M286.1 1576.6h0M419.5 1576.2h0M402.0 1584.3h0M473.4 1571.7h0M451.5 1578.0h0M289.1 1574.8h0M329.1 1564.3h0M396.0 1584.3h0M348.8 1581.5h0M430.1 1570.8h0M466.0 1577.5h0M481.0 1578.8h0M440.0 1573.4h0M454.7 1582.7h0M466.7 1575.1h0M443.8 1575.8h0M301.9 1566.1h0M295.1 1571.0h0M313.2 1573.2h0M431.1 1577.0h0M370.4 1581.8h0M344.7 1572.6h0M443.8 1574.4h0M317.5 1581.1h0M435.6 1574.1h0M359.2 1576.3h0M408.6 1575.7h0M278.6 1578.8h0M449.5 1570.3h0M378.7 1583.8h0M323.8 1566.2h0M366.4 1575.0h0M284.0 1576.8h0M314.8 1573.0h0M291.1 1571.2h0M376.1 1583.0h0M432.1 1569.3h0M366.3 1577.5h0M283.8 1577.7h0M325.9 1564.7h0M381.9 1583.8h0M414.3 1575.1h0M305.1 1565.8h0M437.4 1572.5h0M450.5 1575.5h0M482.3 1575.8h0M332.7 1568.3h0M456.4 1578.0h0M353.5 1566.3h0M427.4 1583.8h0M407.7 1575.0h0M284.6 1576.3h0M315.3 1564.1h0M289.8 1576.7h0M475.2 1573.1h0M491.3 1577.7h0M454.0 1582.5h0M483.9 1574.5h0M344.7 1575.7h0M485.3 1575.3h0M342.3 1580.8h0M303.1 1571.8h0M351.2 1577.6h0M481.3 1574.6h0M440.0 1579.9h0M461.0 1576.8h0M480.2 1575.9h0M368.8 1577.5h0M448.7 1575.7h0M337.0 1566.3h0M435.8 1577.9h0M433.6 1574.5h0M384.7 1583.8h0M433.6 1568.7h0M380.3 1584.2h0M426.3 1570.5h0M329.9 1580.4h0M418.7 1582.5h0M469.0 1575.3h0M474.4 1579.2h0M351.1 1571.0h0M293.8 1573.7h0M487.3 1576.1h0M402.6 1583.8h0M295.7 1576.4h0M330.7 1563.7h0M311.4 1576.0h0M406.2 1577.8h0M328.4 1582.9h0M326.2 1574.4h0M369.9 1582.6h0M410.4 1581.4h0M395.2 1583.8h0M316.9 1564.7h0M458.8 1570.1h0M283.3 1577.6h0M321.6 1581.2h0M296.8 1573.8h0M326.8 1580.0h0M412.8 1579.3h0M444.7 1582.1h0M353.8 1576.5h0M375.6 1582.0h0M460.9 1577.4h0M456.4 1571.4h0M396.1 1584.0h0M437.4 1569.2h0M353.8 1574.1h0M293.7 1575.4h0M439.0 1574.8h0M420.0 1578.5h0M324.9 1570.0h0M496.1 1578.0h0M372.4 1579.4h0M325.7 1566.1h0M481.9 1578.9h0M469.6 1583.1h0M412.1 1583.4h0M395.3 1584.0h0M485.6 1579.6h0M486.0 1577.5h0M447.4 1574.5h0M496.4 1578.0h0M342.0 1582.6h0M318.4 1564.9h0M436.2 1572.9h0M391.8 1584.1h0M286.9 1577.4h0M338.4 1571.9h0M353.5 1579.2h0M441.5 1572.5h0M300.6 1570.5h0M368.0 1575.5h0M311.6 1578.2h0M431.4 1583.9h0M492.5 1577.8h0M359.6 1570.2h0M346.3 1572.6h0M393.2 1584.0h0M356.8 1581.6h0M340.5 1572.6h0M472.2 1580.3h0M343.1 1567.9h0M454.7 1568.3h0M306.8 1574.0h0M395.3 1583.8h0M289.0 1573.9h0M446.6 1575.4h0M492.5 1577.8h0M492.5 1577.8h0M318.5 1563.2h0M372.7 1581.0h0M289.2 1576.0h0M298.5 1571.2h0M332.1 1579.5h0M369.6 1578.4h0M287.6 1575.8h0M415.4 1579.7h0M477.8 1579.8h0M332.2 1565.5h0M444.1 1580.7h0M389.4 1584.2h0M398.9 1583.9h0M315.0 1563.8h0M418.8 1582.8h0M476.4 1576.3h0M423.7 1583.2h0M456.3 1577.6h0M368.8 1580.0h0M315.4 1567.0h0M427.7 1584.2h0M397.8 1583.9h0M355.1 1573.9h0M453.8 1575.3h0M488.1 1576.5h0M347.0 1573.9h0M368.2 1582.9h0M459.2 1582.6h0M412.1 1570.9h0M403.8 1583.3h0M384.8 1583.9h0M433.4 1582.9h0M300.4 1576.5h0M359.3 1576.1h0M474.2 1582.0h0M418.9 1572.6h0M479.6 1574.2h0M361.9 1581.6h0M347.2 1568.5h0M486.0 1579.7h0M347.5 1571.1h0M339.7 1565.5h0M332.8 1583.3h0M295.4 1571.3h0M321.8 1564.3h0M393.2 1584.1h0M461.6 1578.0h0M457.1 1568.4h0M339.8 1583.1h0M293.2 1572.5h0M383.7 1583.9h0M397.6 1583.7h0M329.7 1582.7h0M309.6 1580.8h0M317.0 1582.9h0M425.7 1578.9h0M309.1 1565.3h0M444.3 1570.7h0M319.5 1579.6h0M469.6 1569.4h0M488.4 1577.7h0M361.7 1570.3h0M363.4 1584.1h0M339.5 1565.5h0M309.8 1566.6h0M355.2 1582.7h0M294.9 1571.0h0M483.7 1580.5h0M492.6 1577.8h0M355.6 1583.4h0M384.2 1584.1h0M346.6 1563.2h0M353.6 1579.3h0M449.2 1577.1h0M379.6 1584.0h0M374.9 1582.8h0M460.4 1571.4h0M408.2 1583.6h0M463.8 1571.2h0M489.0 1578.6h0M314.8 1568.6h0M322.3 1563.8h0M492.3 1577.8h0M469.1 1570.4h0M281.0 1578.1h0M451.9 1583.8h0M428.1 1577.0h0M445.8 1569.4h0M396.3 1584.0h0M310.0 1575.2h0M348.8 1573.6h0M359.8 1572.9h0M356.5 1577.0h0M492.7 1577.8h0M466.8 1581.0h0M340.8 1583.5h0M337.1 1565.3h0M387.7 1584.1h0M352.7 1577.1h0M339.8 1583.3h0M377.2 1583.6h0M394.4 1584.2h0M494.1 1577.9h0M374.7 1583.0h0M293.2 1574.2h0M463.6 1580.2h0M291.0 1578.3h0M362.1 1584.0h0M358.3 1570.6h0M398.2 1584.2h0M372.4 1583.6h0M433.8 1574.1h0M343.8 1573.5h0M365.4 1576.6h0M420.7 1582.5h0M406.0 1579.1h0M326.2 1570.4h0M412.6 1572.4h0M295.9 1572.2h0M340.0 1563.3h0M396.0 1584.3h0M395.0 1584.1h0M459.4 1581.2h0M478.0 1576.2h0M427.5 1570.8h0M470.7 1574.3h0M382.1 1584.2h0M340.8 1566.7h0M458.4 1577.5h0M296.6 1568.1h0M354.9 1565.3h0M460.3 1571.2h0M338.0 1570.9h0M390.1 1584.0h0M415.7 1579.5h0M373.5 1580.4h0M492.4 1577.8h0M296.3 1573.6h0M443.0 1584.1h0M292.5 1570.3h0M383.1 1584.0h0M473.9 1580.4h0M350.6 1571.9h0M405.6 1583.7h0M322.2 1570.8h0M297.4 1576.2h0M283.8 1577.7h0M392.7 1584.0h0M296.7 1570.8h0M380.7 1584.2h0M396.1 1583.9h0M493.1 1577.8h0M393.7 1583.8h0M343.4 1581.9h0M307.1 1574.0h0M413.8 1575.3h0M446.3 1582.6h0M465.8 1579.5h0M322.6 1563.9h0M372.8 1580.9h0M320.5 1580.7h0M325.3 1579.8h0M483.3 1574.8h0M478.1 1575.8h0M324.4 1566.6h0M286.3 1576.6h0M362.2 1582.0h0M460.4 1569.2h0M365.9 1577.1h0M316.9 1568.2h0M335.7 1577.4h0M352.5 1566.2h0M326.3 1571.9h0M401.7 1583.8h0M431.2 1572.0h0M424.9 1578.4h0M316.5 1578.1h0M364.3 1578.2h0M408.9 1580.0h0M374.9 1581.3h0M450.3 1581.7h0M385.3 1584.0h0M336.8 1581.7h0M428.2 1572.3h0M457.0 1583.5h0M353.8 1584.2h0M383.8 1583.8h0M435.0 1573.7h0M438.4 1577.5h0M301.6 1574.2h0M464.3 1575.7h0M396.1 1584.2h0M375.8 1583.1h0M405.6 1583.3h0M322.5 1564.6h0M444.7 1576.9h0M344.3 1581.8h0M471.7 1576.7h0M494.5 1577.9h0M441.8 1572.6h0M280.4 1578.3h0M439.0 1573.6h0M382.8 1584.0h0M332.7 1577.4h0M401.2 1583.9h0M302.0 1574.6h0M348.0 1578.3h0M315.8 1571.1h0M321.0 1571.1h0M404.2 1581.7h0M290.0 1575.4h0M322.1 1573.1h0M314.6 1565.5h0M395.7 1584.3h0M468.2 1576.2h0M365.0 1572.5h0M338.5 1569.4h0M484.2 1575.1h0M485.6 1577.4h0M373.1 1580.8h0M488.8 1576.8h0M403.1 1583.9h0M321.7 1567.3h0M493.8 1577.9h0M438.6 1582.7h0M299.6 1577.0h0M442.4 1571.5h0M378.1 1584.3h0M349.6 1579.2h0M314.2 1576.4h0M337.0 1573.5h0M231.8 1550.0h0M244.0 1547.0h0M248.5 1540.5h0M254.5 1551.0h0M247.4 1557.8h0M253.0 1558.3h0M263.0 1560.0h0M267.9 1563.4h0M267.9 1566.7h0M270.0 1542.2h0M276.8 1562.3h0M282.8 1554.5h0M275.6 1573.4h0M311.2 1554.5h0M321.2 1555.6h0M338.0 1557.8h0M351.3 1557.8h0M344.6 1557.8h0M353.5 1566.7h0M370.2 1572.7h0M407.6 1566.7h0M419.0 1542.2h0M425.8 1554.5h0M444.7 1547.1h0M439.2 1557.8h0M473.6 1542.2h0M476.5 1554.5h0M484.8 1561.2h0M464.7 1563.8h0M469.2 1566.7h0M505.9 1567.2h0M501.4 1574.0h0M516.6 1570.7h0M537.7 1552.7h0M494.8 1576.7h0M487.0 1572.3h0M241.0 1547.5h0M329.0 1556.0h0M317.0 1557.0h0M360.0 1565.0h0M448.0 1558.0h0M456.0 1562.0h0" stroke="#bcbcbc" stroke-width="7.4" stroke-linecap="round" fill="none"/>
<path d="M214.2 1486.8h0M226.1 1486.8h0M265.0 1453.0h0M285.0 1449.4h0M343.0 1466.8h0M266.0 1494.0h0M291.0 1505.0h0M254.0 1517.6h0M260.6 1522.0h0M258.8 1527.4h0M257.7 1534.7h0M274.8 1522.0h0M304.9 1531.0h0M315.0 1522.0h0M323.0 1526.7h0M318.7 1538.3h0M353.9 1531.0h0M357.5 1531.0h0" stroke="#acdbe2" stroke-width="7.4" stroke-linecap="round" fill="none"/>
<path d="M469.0 1286.8h0M435.2 1347.4h0M470.0 1468.6h0M431.2 1486.8h0M437.4 1491.8h0M414.9 1531.0h0M424.0 1531.0h0M420.3 1538.3h0M455.5 1531.0h0M488.2 1531.0h0M564.4 1531.0h0" stroke="#f1200f" stroke-width="7.4" stroke-linecap="round" fill="none"/>
<rect x="197.8" y="1272.3" width="383.7" height="325.9" fill="none" stroke="#000" stroke-width="2.2"/>
<line x1="185.0" y1="1584.4" x2="197.8" y2="1584.4" stroke="#000" stroke-width="2.4"/>
<text transform="translate(181.0 1597.9) scale(1 1.035)" text-anchor="end" stroke="#000" stroke-width="0.7">0</text>
<line x1="185.0" y1="1498.0" x2="197.8" y2="1498.0" stroke="#000" stroke-width="2.4"/>
<text transform="translate(181.0 1511.5) scale(1 1.035)" text-anchor="end" stroke="#000" stroke-width="0.7">2.5</text>
<line x1="185.0" y1="1411.6" x2="197.8" y2="1411.6" stroke="#000" stroke-width="2.4"/>
<text transform="translate(181.0 1425.1) scale(1 1.035)" text-anchor="end" stroke="#000" stroke-width="0.7">5.0</text>
<line x1="185.0" y1="1325.2" x2="197.8" y2="1325.2" stroke="#000" stroke-width="2.4"/>
<text transform="translate(181.0 1338.7) scale(1 1.035)" text-anchor="end" stroke="#000" stroke-width="0.7">7.5</text>
<line x1="202.2" y1="1598.2" x2="202.2" y2="1612.7" stroke="#000" stroke-width="2.4"/>
<text transform="translate(196.2 1645.4) scale(1 1.035)" text-anchor="middle" stroke="#000" stroke-width="0.7">-1.5</text>
<line x1="265.5" y1="1598.2" x2="265.5" y2="1612.7" stroke="#000" stroke-width="2.4"/>
<text transform="translate(259.5 1645.4) scale(1 1.035)" text-anchor="middle" stroke="#000" stroke-width="0.7">-1</text>
<line x1="328.8" y1="1598.2" x2="328.8" y2="1612.7" stroke="#000" stroke-width="2.4"/>
<text transform="translate(322.8 1645.4) scale(1 1.035)" text-anchor="middle" stroke="#000" stroke-width="0.7">-0.5</text>
<line x1="392.0" y1="1598.2" x2="392.0" y2="1612.7" stroke="#000" stroke-width="2.4"/>
<text transform="translate(392.0 1645.4) scale(1 1.035)" text-anchor="middle" stroke="#000" stroke-width="0.7">0</text>
<line x1="455.2" y1="1598.2" x2="455.2" y2="1612.7" stroke="#000" stroke-width="2.4"/>
<text transform="translate(455.2 1645.4) scale(1 1.035)" text-anchor="middle" stroke="#000" stroke-width="0.7">0.5</text>
<line x1="518.5" y1="1598.2" x2="518.5" y2="1612.7" stroke="#000" stroke-width="2.4"/>
<text transform="translate(518.5 1645.4) scale(1 1.035)" text-anchor="middle" stroke="#000" stroke-width="0.7">1</text>
<line x1="581.8" y1="1598.2" x2="581.8" y2="1612.7" stroke="#000" stroke-width="2.4"/>
<text transform="translate(581.8 1645.4) scale(1 1.035)" text-anchor="middle" stroke="#000" stroke-width="0.7">1.5</text>
<text transform="translate(393.5 1693.0) scale(1 1.035)" text-anchor="middle" stroke="#000" stroke-width="0.7">Log2 fold change</text>
<text transform="translate(122.0 1431.0) rotate(-90) scale(1 1.035)" text-anchor="middle" stroke="#000" stroke-width="0.7">-Log10 FDR</text>
<text transform="translate(226.0 1396.7) scale(1 1.035)" fill="#55a6f2" stroke="#55a6f2" stroke-width="0.7">18</text>
<text transform="translate(495.0 1396.7) scale(1 1.035)" fill="#e8281e" stroke="#e8281e" stroke-width="0.7">11</text>
<text transform="translate(345.0 1445.7) scale(1 1.035)" stroke="#000" stroke-width="0.7">10599</text>
<text transform="translate(957.7 1243.8) scale(1 1.035)" text-anchor="middle" stroke="#000" stroke-width="0.7">RiboSeq</text>
<path d="M922.4 1566.6h0M956.0 1571.6h0M860.0 1571.6h0M925.1 1547.9h0M906.3 1559.5h0M917.3 1543.0h0M886.3 1566.8h0M873.8 1557.4h0M921.8 1544.5h0M948.5 1560.7h0M960.2 1570.5h0M958.0 1570.3h0M878.5 1566.4h0M958.5 1568.6h0M894.9 1549.8h0M863.8 1566.0h0M857.4 1567.5h0M889.5 1559.0h0M890.2 1564.7h0M863.0 1556.9h0M935.7 1547.5h0M939.7 1562.7h0M858.0 1563.0h0M957.3 1570.5h0M954.6 1564.7h0M894.3 1566.4h0M868.3 1569.0h0M947.3 1542.4h0M866.6 1566.0h0M953.4 1571.3h0M914.2 1553.0h0M875.6 1557.4h0M929.4 1550.0h0M862.1 1565.0h0M899.6 1561.3h0M943.8 1562.5h0M862.8 1557.1h0M908.8 1547.6h0M933.8 1562.8h0M939.7 1559.4h0M872.7 1560.2h0M904.6 1568.2h0M959.5 1570.4h0M933.6 1554.1h0M899.4 1555.5h0M960.8 1571.7h0M909.4 1546.3h0M885.6 1569.2h0M894.9 1566.4h0M929.9 1565.9h0M895.2 1553.3h0M908.0 1563.6h0M887.9 1563.7h0M918.0 1540.3h0M883.3 1560.5h0M942.8 1568.6h0M893.5 1565.4h0M944.0 1569.7h0M948.3 1571.9h0M957.4 1569.0h0M874.4 1571.2h0M907.1 1564.4h0M933.7 1566.7h0M918.0 1556.0h0M922.5 1562.2h0M932.6 1545.5h0M903.3 1550.7h0M929.0 1546.7h0M906.5 1545.7h0M871.0 1558.5h0M877.3 1550.8h0M896.9 1561.4h0M882.0 1551.2h0M899.6 1556.3h0M869.1 1561.9h0M860.8 1560.2h0M914.2 1560.4h0M957.6 1568.4h0M942.4 1560.3h0M871.9 1564.9h0M957.5 1569.6h0M893.9 1546.1h0M868.3 1565.9h0M871.8 1570.5h0M896.5 1551.7h0M887.6 1557.1h0M957.9 1569.8h0M884.3 1561.0h0M900.6 1571.9h0M908.6 1557.4h0M869.8 1563.0h0M887.8 1568.1h0M858.4 1565.7h0M955.2 1564.3h0M885.1 1572.0h0M887.8 1559.4h0M924.7 1565.2h0M869.4 1560.7h0M913.0 1552.3h0M912.6 1554.1h0M935.2 1547.9h0M883.5 1570.5h0M950.2 1558.4h0M938.7 1562.0h0M931.4 1558.7h0M952.7 1564.3h0M946.4 1561.3h0M944.2 1569.6h0M929.9 1553.4h0M939.0 1551.8h0M907.2 1558.1h0M891.7 1561.6h0M942.2 1557.5h0M943.1 1566.3h0M859.7 1572.1h0M961.8 1572.4h0M945.4 1566.6h0M957.0 1565.6h0M887.7 1551.5h0M921.1 1548.9h0M922.4 1544.0h0M896.8 1547.2h0M917.4 1568.9h0M871.1 1560.7h0M920.0 1570.6h0M896.3 1539.7h0M872.9 1563.8h0M952.6 1567.3h0M884.6 1555.4h0M935.8 1550.5h0M881.6 1566.8h0M875.8 1566.2h0M866.0 1557.6h0M870.1 1559.5h0M949.1 1562.4h0M940.6 1544.3h0M862.6 1571.5h0M928.5 1548.6h0M959.1 1571.5h0M871.7 1561.3h0M881.7 1564.2h0M893.6 1549.7h0M944.3 1569.1h0M902.5 1559.0h0M919.2 1565.0h0M898.5 1546.3h0M878.3 1542.4h0M907.5 1544.1h0M906.4 1561.6h0M902.0 1547.6h0M873.2 1561.5h0M897.5 1549.6h0M883.7 1553.8h0M887.1 1559.8h0M860.4 1564.3h0M955.5 1569.0h0M906.5 1547.5h0M927.2 1563.5h0M933.6 1551.8h0M859.6 1561.9h0M899.1 1555.1h0M889.7 1553.9h0M933.9 1550.9h0M882.3 1571.0h0M924.8 1571.6h0M857.7 1570.6h0M900.1 1541.2h0M960.9 1571.4h0M866.9 1570.7h0M908.6 1545.4h0M882.6 1548.3h0M863.3 1562.9h0M889.1 1546.8h0M959.0 1570.1h0M899.2 1547.6h0M890.0 1560.5h0M953.7 1570.5h0M879.5 1548.8h0M908.1 1554.6h0M922.6 1569.9h0M889.3 1567.9h0M880.5 1558.4h0M866.2 1569.4h0M889.9 1548.8h0M882.7 1560.0h0M917.6 1545.9h0M930.6 1544.8h0M887.0 1550.6h0M901.2 1565.5h0M915.4 1562.5h0M936.8 1558.4h0M942.8 1571.5h0M933.4 1553.5h0M942.3 1555.7h0M863.9 1560.6h0M928.0 1547.1h0M937.2 1548.1h0M862.3 1562.2h0M947.3 1566.4h0M881.3 1559.1h0M891.7 1542.0h0M943.8 1557.1h0M912.7 1564.0h0M903.9 1566.6h0M869.4 1570.9h0M905.4 1556.7h0M937.6 1560.7h0M958.8 1568.0h0M942.5 1554.5h0M959.7 1564.6h0M907.6 1555.1h0M879.6 1556.5h0M916.1 1565.3h0M882.4 1556.3h0M960.2 1571.9h0M921.9 1548.5h0M944.3 1556.5h0M874.8 1567.4h0M951.5 1569.5h0M891.0 1568.8h0M922.4 1555.0h0M858.1 1568.8h0M876.4 1560.1h0M859.8 1565.1h0M907.0 1555.4h0M960.2 1572.1h0M929.7 1560.0h0M940.9 1563.7h0M928.3 1553.1h0M865.2 1562.0h0M917.9 1564.3h0M889.2 1553.9h0M932.2 1565.9h0M927.3 1569.5h0M929.2 1565.3h0M921.2 1558.8h0M951.1 1572.0h0M914.1 1544.1h0M898.0 1563.0h0M951.5 1567.0h0M897.6 1564.0h0M915.1 1554.6h0M950.1 1562.5h0M885.1 1569.9h0M874.6 1568.2h0M880.6 1563.5h0M944.2 1567.8h0M900.8 1559.5h0M952.0 1562.7h0M920.6 1549.6h0M860.2 1566.9h0M920.4 1549.7h0M919.4 1563.6h0M933.5 1559.1h0M944.6 1561.2h0M946.3 1571.2h0M881.1 1569.0h0M907.1 1549.6h0M873.4 1557.7h0M921.7 1565.6h0M934.3 1567.3h0M931.9 1571.2h0M922.6 1547.4h0M867.8 1559.3h0M896.3 1563.8h0M935.0 1557.2h0M914.1 1547.3h0M919.7 1563.5h0M909.0 1570.7h0M864.6 1567.8h0M888.1 1559.4h0M894.2 1570.2h0M897.1 1558.9h0M930.2 1561.1h0M888.1 1568.5h0M911.5 1541.1h0M882.0 1552.7h0M885.5 1560.2h0M960.4 1570.9h0M955.1 1565.3h0M942.1 1545.7h0M894.9 1544.5h0M905.1 1558.8h0M862.6 1571.9h0M903.5 1547.0h0M886.3 1564.9h0M910.3 1541.2h0M938.7 1562.4h0M951.7 1567.4h0M860.8 1551.5h0M900.4 1567.6h0M953.1 1572.3h0M936.4 1550.9h0M939.0 1571.6h0M961.4 1572.0h0M885.4 1555.8h0M927.0 1549.7h0M905.1 1555.1h0M951.2 1561.3h0M858.9 1571.9h0M919.9 1551.0h0M953.6 1559.9h0M876.4 1559.2h0M936.2 1566.7h0M873.0 1571.9h0M930.7 1548.9h0M924.6 1554.9h0M907.2 1571.3h0M882.3 1556.6h0M914.3 1547.8h0M907.5 1544.3h0M938.0 1560.0h0M921.1 1546.0h0M909.6 1541.3h0M893.3 1544.4h0M904.3 1570.2h0M895.9 1564.7h0M955.4 1572.2h0M888.7 1570.6h0M865.1 1568.1h0M912.5 1570.2h0M888.4 1568.1h0M871.5 1563.7h0M916.4 1556.9h0M863.3 1561.9h0M872.1 1559.7h0M886.0 1566.2h0M884.5 1563.8h0M897.8 1552.1h0M884.7 1559.6h0M951.2 1560.5h0M862.5 1565.4h0M858.0 1555.2h0M908.9 1545.0h0M918.8 1564.5h0M921.2 1550.6h0M956.6 1564.5h0M928.8 1547.3h0M905.3 1569.3h0M932.7 1563.1h0M945.6 1568.4h0M884.2 1549.9h0M936.6 1569.8h0M905.9 1550.4h0M884.7 1554.3h0M866.3 1557.4h0M901.6 1562.7h0M875.4 1563.4h0M929.2 1560.9h0M952.8 1562.7h0M908.8 1569.5h0M915.3 1555.9h0M939.3 1555.8h0M868.3 1561.7h0M950.4 1567.1h0M924.3 1547.9h0M937.8 1550.1h0M923.4 1560.7h0M862.2 1562.7h0M923.8 1551.8h0M899.9 1547.8h0M863.8 1563.0h0M948.3 1561.9h0M875.9 1568.6h0M951.1 1560.0h0M900.7 1545.8h0M916.3 1547.2h0M910.7 1570.8h0M905.9 1565.8h0M869.1 1557.1h0M960.7 1571.3h0M885.6 1571.7h0M901.9 1559.0h0M953.4 1567.6h0M953.5 1569.9h0M912.5 1545.4h0M955.6 1566.7h0M953.3 1565.9h0M886.8 1554.5h0M906.4 1561.2h0M871.1 1567.1h0M933.5 1572.2h0M871.0 1556.9h0M903.9 1568.3h0M874.1 1556.8h0M917.9 1554.2h0M862.5 1558.5h0M937.2 1562.1h0M924.1 1568.8h0M953.5 1563.8h0M949.1 1563.9h0M900.5 1548.6h0M925.8 1564.8h0M857.1 1567.6h0M946.6 1563.3h0M945.0 1561.6h0M933.8 1564.9h0M921.5 1548.9h0M908.9 1536.0h0M938.0 1548.7h0M913.2 1547.3h0M878.3 1569.5h0M882.0 1564.9h0M897.4 1551.7h0M885.7 1543.6h0M918.0 1558.4h0M902.7 1565.0h0M896.1 1565.9h0M903.7 1546.3h0M884.4 1553.1h0M863.0 1549.3h0M868.2 1563.0h0M941.3 1562.5h0M859.6 1569.7h0M922.5 1561.6h0M932.2 1562.3h0M859.1 1572.2h0M878.1 1559.9h0M867.5 1557.4h0M880.1 1549.5h0M888.5 1557.0h0M874.4 1570.5h0M929.4 1556.4h0M904.4 1545.3h0M904.8 1563.8h0M947.3 1568.7h0M948.4 1569.2h0M900.7 1563.0h0M949.7 1564.3h0M877.0 1558.7h0M928.6 1550.6h0M913.0 1554.3h0M866.9 1561.9h0M872.1 1555.4h0M872.6 1557.0h0M857.6 1572.0h0M944.6 1571.1h0M865.4 1556.3h0M863.1 1568.5h0M907.2 1556.8h0M953.5 1566.4h0M874.9 1562.5h0M943.4 1560.0h0M942.7 1563.8h0M880.1 1564.2h0M866.9 1562.6h0M890.7 1566.6h0M889.5 1549.9h0M911.5 1562.1h0M953.2 1559.9h0M910.9 1556.4h0M872.9 1562.9h0M864.5 1560.2h0M887.5 1555.3h0M954.8 1562.0h0M893.3 1548.5h0M893.0 1564.0h0M905.5 1568.5h0M891.5 1558.1h0M948.5 1556.2h0M887.0 1568.0h0M909.8 1558.2h0M945.8 1563.6h0M926.0 1556.0h0M901.8 1556.9h0M949.3 1563.1h0M920.3 1549.3h0M903.8 1545.8h0M868.4 1570.7h0M864.1 1566.4h0M886.9 1549.1h0M904.9 1553.7h0M929.8 1568.4h0M945.4 1569.9h0M875.6 1560.4h0M922.6 1569.1h0M895.9 1570.8h0M955.7 1570.9h0M961.7 1572.3h0M933.4 1553.7h0M817.3 1288.9h0M897.0 1425.0h0M879.7 1457.5h0M801.7 1490.5h0M848.4 1489.3h0M874.0 1490.5h0M897.4 1490.5h0M902.9 1490.5h0M867.8 1500.5h0M815.7 1512.7h0M820.6 1512.7h0M896.3 1506.0h0M918.0 1510.0h0M901.8 1514.9h0M913.0 1514.9h0M886.2 1517.2h0M874.0 1520.0h0M877.3 1520.0h0M915.2 1522.3h0M841.8 1529.0h0M865.1 1529.0h0M882.9 1528.5h0M886.2 1528.5h0M921.8 1529.0h0M931.4 1528.5h0M936.3 1533.4h0M857.3 1532.3h0M778.8 1547.9h0M813.9 1546.7h0M824.0 1541.2h0M827.3 1547.9h0M829.5 1552.3h0M820.6 1551.2h0M808.4 1562.3h0M816.2 1561.2h0M824.6 1560.1h0M824.6 1566.8h0M849.5 1540.0h0M854.0 1541.2h0M862.9 1539.0h0M841.8 1564.5h0M840.6 1569.0h0M849.5 1571.2h0M848.4 1567.9h0M855.1 1567.9h0M862.9 1553.4h0M870.7 1550.7h0M860.7 1561.2h0M826.0 1555.0h0M832.0 1562.0h0M845.0 1560.0h0" stroke="#acdbe2" stroke-width="7.4" stroke-linecap="round" fill="none"/>
<path d="M1071.9 1564.1h0M1030.4 1543.6h0M1046.7 1558.9h0M1070.1 1569.1h0M1066.9 1564.9h0M1063.2 1565.1h0M1072.8 1569.2h0M1063.5 1561.5h0M1017.3 1571.5h0M1044.7 1553.9h0M1059.5 1571.5h0M1055.9 1566.6h0M1038.1 1569.9h0M1050.1 1566.8h0M1072.8 1556.9h0M1038.2 1553.9h0M1056.0 1570.3h0M1051.0 1566.4h0M1034.4 1558.6h0M1020.8 1571.4h0M1064.5 1550.1h0M1011.3 1572.3h0M1058.4 1562.1h0M1040.4 1572.3h0M1014.2 1571.7h0M1041.0 1553.5h0M1086.4 1571.3h0M1079.4 1569.7h0M1072.1 1563.9h0M1065.0 1557.5h0M1068.2 1564.1h0M1071.2 1556.7h0M1019.6 1568.6h0M1030.0 1570.6h0M1029.9 1569.4h0M1057.7 1563.7h0M1047.3 1559.4h0M1033.8 1554.5h0M1061.4 1571.0h0M1039.3 1554.8h0M1041.1 1567.2h0M1083.1 1561.4h0M1045.0 1549.4h0M1070.3 1567.8h0M1038.2 1568.4h0M1014.9 1572.2h0M1057.8 1568.7h0M1073.5 1563.9h0M1017.8 1568.4h0M1058.8 1558.3h0M1059.0 1557.7h0M1060.4 1570.7h0M1059.1 1558.0h0M1074.9 1566.3h0M1081.1 1570.7h0M1045.3 1567.6h0M1020.7 1571.7h0M1044.4 1559.5h0M1031.6 1548.9h0M1072.4 1561.0h0M1083.3 1570.8h0M1031.8 1558.0h0M1081.9 1558.5h0M1073.7 1564.9h0M1012.6 1571.6h0M1014.1 1571.8h0M1084.1 1566.7h0M1016.1 1569.2h0M1052.7 1563.9h0M1015.9 1570.7h0M1012.4 1571.5h0M1032.0 1561.4h0M1040.3 1552.6h0M1054.0 1562.7h0M1022.7 1564.1h0M1054.6 1565.2h0M1024.7 1562.6h0M1044.4 1572.2h0M1053.0 1567.6h0M1060.3 1562.1h0M1062.0 1558.7h0M1058.8 1556.9h0M1013.1 1570.8h0M1065.5 1562.1h0M1012.5 1572.1h0M1027.6 1570.5h0M1032.9 1565.2h0M1077.4 1567.0h0M1019.4 1572.2h0M1013.9 1571.8h0M1062.7 1566.6h0M1032.4 1552.0h0M1077.0 1569.0h0M1026.7 1556.9h0M1071.7 1572.2h0M1065.2 1568.7h0M1017.3 1568.1h0M1038.6 1571.0h0M1012.2 1572.3h0M1044.0 1550.2h0M1020.9 1565.5h0M1010.2 1572.9h0M1056.1 1558.0h0M1042.7 1571.8h0M1039.9 1561.2h0M1058.9 1560.4h0M1020.7 1567.1h0M1045.0 1562.6h0M1083.9 1568.0h0M1019.4 1569.4h0M1077.2 1567.5h0M1073.3 1569.8h0M1080.1 1571.0h0M1077.8 1561.9h0M1029.6 1557.3h0M1076.7 1556.6h0M1033.8 1562.4h0M1069.9 1557.7h0M1039.7 1570.0h0M1075.3 1571.6h0M1050.6 1563.2h0M1038.4 1568.1h0M1056.2 1566.5h0M1072.2 1558.5h0M1018.5 1570.9h0M1022.1 1564.1h0M1063.6 1557.5h0M1086.4 1569.9h0M1037.4 1565.0h0M1081.5 1560.5h0M1059.1 1568.0h0M1045.7 1563.7h0M1045.5 1562.7h0M1067.3 1566.3h0M1081.1 1557.0h0M1078.8 1536.4h0M1045.5 1556.1h0M1066.3 1566.2h0M1018.0 1569.4h0M1075.0 1567.0h0M1046.6 1551.3h0M1051.5 1557.0h0M1044.8 1528.9h0M1085.6 1569.7h0M1015.5 1571.4h0M1072.0 1570.1h0M1044.2 1561.7h0M1037.0 1569.2h0M1045.3 1565.9h0M1013.6 1571.6h0M1058.5 1547.5h0M1048.6 1556.0h0M1012.8 1570.0h0M1033.7 1547.6h0M1066.7 1570.4h0M1027.0 1563.7h0M1017.0 1569.7h0M1024.4 1571.2h0M1027.2 1562.4h0M1038.0 1548.1h0M1043.5 1563.3h0M1057.5 1566.4h0M1085.8 1570.7h0M1075.3 1560.7h0M1085.7 1569.5h0M1038.9 1560.5h0M1079.9 1561.0h0M1060.7 1566.8h0M1049.6 1555.6h0M1044.2 1553.2h0M1030.5 1546.7h0M1034.1 1561.5h0M1076.5 1568.2h0M1032.1 1565.4h0M1079.7 1556.9h0M1014.0 1572.0h0M1022.0 1569.1h0M1077.4 1558.3h0M1071.9 1558.3h0M1041.1 1549.2h0M1031.5 1550.7h0M1017.7 1566.8h0M1035.5 1564.0h0M1057.7 1561.2h0M1057.9 1558.8h0M1018.8 1567.8h0M1027.4 1562.6h0M1060.5 1565.7h0M1025.0 1568.0h0M1041.7 1561.9h0M1019.3 1571.8h0M1038.4 1552.6h0M1080.9 1562.3h0M1065.6 1570.8h0M1042.1 1555.4h0M1056.0 1557.6h0M1079.3 1565.7h0M1062.8 1561.4h0M1045.4 1550.0h0M1079.0 1564.2h0M1059.8 1569.5h0M1086.2 1570.0h0M1038.3 1558.6h0M1015.5 1569.5h0M1037.0 1561.8h0M1051.8 1565.7h0M1085.7 1568.7h0M1071.0 1571.4h0M1058.3 1558.8h0M1076.1 1556.8h0M1072.6 1556.2h0M1012.4 1571.9h0M1047.7 1561.5h0M1026.0 1555.4h0M1013.9 1572.2h0M1042.6 1557.1h0M1038.9 1562.9h0M1031.8 1567.7h0M1053.8 1559.1h0M1086.2 1572.0h0M1062.6 1556.5h0M1081.3 1558.5h0M1016.4 1571.1h0M1025.1 1557.4h0M1054.4 1561.2h0M1062.2 1568.5h0M1070.1 1554.7h0M1052.3 1565.7h0M1012.3 1571.9h0M1026.8 1560.1h0M1056.4 1565.7h0M1048.9 1569.8h0M1077.4 1571.4h0M1062.4 1567.5h0M1032.1 1557.1h0M1012.6 1571.4h0M1028.2 1566.7h0M1060.9 1567.8h0M1041.7 1557.8h0M1032.3 1571.5h0M1056.5 1565.9h0M1049.1 1553.3h0M1015.1 1570.7h0M1011.0 1572.5h0M1085.5 1567.1h0M1040.3 1550.5h0M1032.6 1570.2h0M1031.1 1550.8h0M1059.3 1566.4h0M1056.7 1565.4h0M1081.1 1566.5h0M1026.3 1572.0h0M1012.1 1571.8h0M1025.7 1567.8h0M1039.8 1568.0h0M1014.6 1571.9h0M1057.2 1560.0h0M1023.1 1564.7h0M1032.3 1551.0h0M1019.8 1569.1h0M1018.9 1567.2h0M1039.1 1559.8h0M1028.6 1562.6h0M1035.5 1555.4h0M1053.7 1559.8h0M1077.9 1571.3h0M1043.1 1551.0h0M1049.9 1565.1h0M1063.5 1557.3h0M1079.9 1567.3h0M1067.0 1556.3h0M1059.8 1556.5h0M1010.6 1572.7h0M1065.1 1566.0h0M1025.7 1554.5h0M1061.4 1572.2h0M1029.1 1557.7h0M1083.4 1571.1h0M1059.7 1557.9h0M1072.7 1568.2h0M1013.8 1571.4h0M1031.3 1550.1h0M1030.0 1556.1h0M1086.3 1570.0h0M1041.3 1555.4h0M1086.4 1571.0h0M1078.0 1560.3h0M1049.9 1569.5h0M1076.8 1557.8h0M1081.7 1558.5h0M1049.4 1553.2h0M1025.0 1560.3h0M1076.4 1560.0h0M1018.2 1570.6h0M1063.9 1568.7h0M1015.6 1567.3h0M1061.4 1571.4h0M1080.8 1566.2h0M1043.9 1545.6h0M1081.4 1564.5h0M1060.0 1572.2h0M1066.0 1571.6h0M1085.6 1553.8h0M1032.8 1545.2h0M1020.0 1559.8h0M1039.1 1565.1h0M1025.7 1561.6h0M1035.2 1550.4h0M1073.3 1563.3h0M1035.8 1551.5h0M1042.4 1551.1h0M1011.7 1572.2h0M1034.8 1567.4h0M1014.2 1571.7h0M1029.3 1561.2h0M1031.3 1548.8h0M1086.7 1570.8h0M1019.1 1569.8h0M1083.0 1562.7h0M1076.0 1560.4h0M1027.1 1571.5h0M1039.7 1564.7h0M1045.4 1556.9h0M1067.3 1558.5h0M1022.1 1572.0h0M1029.2 1549.0h0M1077.8 1567.1h0M1087.1 1565.5h0M1019.4 1566.8h0M1034.5 1558.2h0M1072.3 1570.5h0M1011.3 1572.3h0M1011.3 1571.8h0M1017.1 1569.0h0M1050.8 1559.0h0M1086.9 1571.5h0M1074.8 1570.3h0M1074.7 1570.3h0M1058.5 1554.3h0M1063.5 1567.5h0M1061.0 1457.5h0M1079.4 1490.5h0M1091.4 1514.9h0M1101.0 1518.3h0M1065.8 1528.5h0M1047.5 1533.0h0M1047.5 1539.0h0M1030.9 1542.3h0M1037.5 1540.0h0M1065.3 1544.5h0M1080.9 1545.6h0M1101.0 1546.7h0M1102.7 1545.6h0M1123.2 1553.4h0M1118.7 1563.4h0M1129.2 1564.5h0M1109.8 1567.4h0M1124.7 1573.4h0M1096.5 1564.1h0M1087.6 1571.2h0M1096.5 1571.2h0M1085.4 1562.3h0M1090.0 1558.0h0M1072.0 1550.0h0M1058.0 1549.0h0M1042.0 1544.0h0" stroke="#f1200f" stroke-width="7.4" stroke-linecap="round" fill="none"/>
<path d="M938.7 1578.9h0M1018.2 1579.0h0M990.2 1585.7h0M874.1 1578.1h0M869.1 1577.8h0M877.0 1577.4h0M963.2 1584.5h0M890.1 1578.0h0M1012.5 1585.3h0M1000.2 1583.6h0M1097.2 1578.0h0M1068.6 1579.1h0M895.1 1577.7h0M935.0 1583.2h0M903.9 1580.1h0M1015.3 1581.2h0M993.1 1584.4h0M874.5 1577.6h0M1025.3 1581.3h0M936.3 1581.7h0M970.1 1582.0h0M1053.0 1582.3h0M919.3 1580.8h0M987.6 1586.5h0M1037.3 1580.0h0M1098.2 1577.9h0M961.6 1583.9h0M896.9 1579.3h0M869.5 1578.0h0M1045.8 1581.7h0M1072.7 1579.0h0M1029.0 1582.4h0M1000.9 1583.7h0M1064.1 1582.7h0M975.2 1584.8h0M874.7 1578.5h0M1017.3 1585.5h0M1059.7 1579.4h0M953.7 1583.0h0M865.5 1577.7h0M900.8 1577.8h0M874.3 1578.6h0M891.4 1578.1h0M955.0 1584.5h0M879.6 1578.3h0M993.5 1586.2h0M1059.1 1582.8h0M927.7 1580.3h0M947.2 1584.2h0M1092.7 1578.1h0M902.8 1578.4h0M916.7 1580.2h0M1003.2 1582.3h0M861.0 1577.5h0M949.7 1582.1h0M1091.6 1578.6h0M985.3 1586.1h0M1024.3 1578.7h0M1078.6 1580.3h0M1072.5 1581.0h0M955.3 1581.2h0M885.2 1579.1h0M875.1 1577.3h0M910.7 1578.2h0M942.6 1578.4h0M860.1 1577.5h0M884.7 1578.3h0M866.2 1577.8h0M1009.2 1580.0h0M921.3 1579.6h0M948.5 1579.0h0M1066.3 1582.6h0M973.2 1583.7h0M880.9 1577.5h0M943.3 1579.8h0M1061.4 1578.6h0M865.6 1577.7h0M988.4 1586.0h0M992.0 1584.7h0M988.3 1586.6h0M1069.8 1580.8h0M923.5 1579.8h0M900.6 1580.8h0M989.4 1586.3h0M940.1 1579.4h0M1057.2 1583.8h0M1067.2 1581.6h0M1058.9 1582.1h0M915.1 1580.3h0M946.4 1578.3h0M866.8 1577.8h0M923.0 1581.7h0M1092.4 1578.3h0M1087.7 1579.8h0M1092.1 1578.3h0M913.6 1578.6h0M907.8 1578.4h0M1011.6 1585.0h0M1064.2 1580.2h0M1018.7 1584.1h0M880.6 1578.9h0M1081.1 1580.1h0M1042.3 1581.2h0M903.4 1581.0h0M940.8 1583.4h0M1096.1 1578.1h0M957.5 1585.1h0M1036.1 1579.3h0M890.9 1577.7h0M1079.9 1580.3h0M895.5 1580.6h0M1098.2 1577.9h0M945.1 1581.8h0M891.8 1577.3h0M1095.9 1578.1h0M988.0 1586.6h0M965.4 1584.9h0M1060.8 1578.9h0M921.2 1579.3h0M918.5 1580.9h0M923.0 1580.1h0M891.9 1580.6h0M946.0 1581.2h0M1001.8 1585.7h0M962.2 1585.1h0M981.9 1585.4h0M987.2 1586.1h0M967.0 1580.5h0M861.0 1577.5h0M901.9 1579.5h0M1036.2 1581.9h0M939.2 1581.4h0M995.0 1585.8h0M885.8 1578.9h0M920.4 1579.1h0M1047.7 1581.2h0M996.5 1585.6h0M1081.7 1579.0h0M1008.8 1582.5h0M984.5 1586.1h0M969.9 1583.3h0M976.2 1586.1h0M1029.9 1584.3h0M1088.9 1578.2h0M996.0 1586.2h0M1064.1 1578.4h0M889.6 1578.7h0M877.6 1577.7h0M877.8 1578.7h0M1050.5 1583.7h0M897.5 1580.3h0M1020.4 1579.5h0M1074.5 1581.5h0M913.4 1582.6h0M956.8 1581.8h0M1100.5 1577.7h0M899.2 1579.1h0M985.3 1585.8h0M907.6 1578.9h0M1035.5 1578.3h0M994.6 1584.9h0M864.4 1577.7h0M1011.6 1582.3h0M875.6 1579.2h0M1051.6 1584.2h0M885.5 1578.0h0M869.6 1578.1h0M925.7 1578.4h0M962.6 1585.1h0M1059.0 1579.2h0M896.3 1581.1h0M998.7 1585.1h0M881.7 1577.4h0M1027.2 1581.2h0M877.6 1579.3h0M1014.2 1584.3h0M880.3 1579.3h0M876.2 1579.0h0M970.3 1582.3h0M994.4 1586.2h0M925.1 1578.4h0M988.0 1586.1h0M886.6 1577.7h0M872.2 1577.5h0M935.8 1579.8h0M1044.6 1579.9h0M981.5 1584.5h0M944.3 1578.2h0M920.9 1577.6h0M1038.1 1581.8h0M906.0 1579.7h0M1087.1 1577.9h0M1059.0 1580.3h0M980.3 1586.0h0M955.5 1581.9h0M1027.1 1585.1h0M943.3 1583.7h0M1031.7 1582.6h0M958.3 1580.9h0M873.2 1577.4h0M877.2 1578.8h0M922.1 1578.5h0M880.5 1579.3h0M1071.5 1580.6h0M928.5 1579.2h0M931.2 1580.7h0M898.3 1579.2h0M924.0 1583.4h0M1096.3 1578.1h0M919.4 1583.1h0M935.2 1580.2h0M860.3 1577.5h0M975.3 1584.1h0M908.8 1579.9h0M861.2 1577.6h0M881.8 1578.3h0M870.1 1577.5h0M933.9 1579.3h0M1002.3 1583.8h0M1042.4 1582.4h0M1034.0 1584.2h0M954.7 1580.7h0M1099.3 1577.8h0M1036.0 1582.5h0M870.6 1578.3h0M1076.7 1580.0h0M1038.3 1583.6h0M893.9 1579.3h0M982.6 1586.1h0M1055.5 1583.0h0M1001.9 1585.6h0M1025.9 1583.1h0M915.9 1577.6h0M892.3 1578.6h0M885.5 1579.7h0M995.7 1585.3h0M1012.2 1583.5h0M978.9 1583.2h0M1053.8 1582.6h0M982.2 1585.5h0M1020.2 1578.9h0M1039.0 1579.7h0M878.1 1577.8h0M1037.2 1579.5h0M1039.8 1584.6h0M980.0 1584.7h0M976.4 1585.1h0M1046.4 1582.0h0M1016.2 1579.1h0M895.8 1578.3h0M1040.6 1580.1h0M998.0 1582.6h0M874.7 1577.7h0M1023.3 1583.2h0M1024.2 1580.4h0M985.5 1586.0h0M973.3 1581.9h0M1077.2 1578.4h0M1097.7 1577.9h0M864.3 1577.7h0M1059.2 1583.4h0M969.2 1581.6h0M911.0 1582.4h0M911.2 1580.5h0M894.4 1579.3h0M1091.5 1578.1h0M1059.3 1580.7h0M1075.5 1580.3h0M916.2 1582.5h0M978.1 1583.0h0M860.9 1577.5h0M969.5 1581.9h0M894.2 1578.6h0M936.8 1583.5h0M860.4 1577.5h0M1063.9 1578.3h0M1085.1 1579.5h0M1079.1 1578.7h0M950.4 1581.0h0M1102.7 1577.5h0M947.7 1581.1h0M926.9 1577.9h0M884.7 1579.7h0M929.4 1583.7h0M920.6 1579.1h0M984.2 1585.3h0M950.7 1584.8h0M1074.9 1580.8h0M1013.3 1585.1h0M1088.6 1578.8h0M1034.9 1578.5h0M1038.0 1581.1h0M1042.9 1582.3h0M929.5 1578.0h0M1085.2 1578.0h0M974.7 1583.3h0M932.4 1582.6h0M1097.2 1578.0h0M1019.4 1580.6h0M995.4 1584.6h0M900.7 1578.0h0M910.5 1582.1h0M980.8 1584.4h0M1080.2 1580.8h0M969.3 1580.9h0M906.8 1577.8h0M943.1 1578.7h0M918.1 1579.0h0M998.4 1585.9h0M1042.2 1580.7h0M960.6 1582.3h0M951.6 1580.6h0M875.1 1577.7h0M1095.1 1578.2h0M982.3 1585.7h0M1069.7 1578.7h0M925.9 1579.1h0M957.1 1581.6h0M1091.8 1578.8h0M1072.1 1577.8h0M867.8 1577.9h0M1077.7 1579.3h0M1002.7 1581.0h0M955.1 1584.8h0M1060.6 1582.6h0M1096.3 1578.1h0M886.5 1577.7h0M986.9 1586.4h0M1088.8 1579.1h0M1017.3 1583.9h0M971.1 1583.6h0M869.6 1578.1h0M916.5 1582.6h0M1016.9 1580.7h0M891.1 1578.1h0M1014.6 1583.5h0M887.2 1577.4h0M987.4 1586.4h0M954.3 1579.9h0M1006.1 1580.0h0M933.3 1580.8h0M1093.0 1578.4h0M1074.8 1579.5h0M917.0 1578.9h0M1093.4 1578.4h0M934.7 1577.9h0M981.1 1585.6h0M962.1 1580.4h0M1022.2 1584.9h0M915.1 1577.6h0M942.1 1580.8h0M1025.9 1579.7h0M1053.7 1582.6h0M982.7 1584.9h0M1095.7 1578.1h0M1059.3 1579.1h0M913.8 1581.6h0M931.7 1584.0h0M980.5 1584.3h0M914.3 1579.7h0M1021.7 1585.0h0M895.6 1578.8h0M911.7 1582.6h0M894.5 1577.4h0M874.6 1577.9h0M1078.3 1580.7h0M1038.1 1584.8h0M1086.4 1578.5h0M905.1 1581.9h0M1041.4 1578.2h0M1021.5 1581.1h0M950.9 1580.6h0M901.1 1577.2h0M928.0 1579.9h0M1092.2 1578.1h0M1094.3 1578.2h0M946.7 1583.7h0M1059.7 1580.2h0M872.0 1578.0h0M950.6 1584.6h0M906.9 1579.1h0M1078.0 1577.8h0M959.8 1584.2h0M1046.3 1578.1h0M868.5 1577.7h0M1083.6 1578.4h0M1041.6 1584.0h0M942.4 1579.9h0M1092.7 1578.4h0M923.7 1581.9h0M936.9 1579.7h0M860.9 1577.5h0M1082.7 1579.5h0M1089.2 1577.8h0M916.8 1580.1h0M1092.5 1578.7h0M953.9 1580.1h0M964.5 1582.2h0M1085.5 1578.1h0M1055.0 1582.5h0M1059.9 1582.2h0M1007.6 1581.6h0M937.7 1580.3h0M1050.1 1578.3h0M907.9 1581.2h0M920.1 1577.9h0M868.2 1577.9h0M939.2 1584.5h0M1074.7 1581.5h0M924.4 1578.1h0M883.4 1578.6h0M1032.5 1581.2h0M916.9 1579.8h0M1010.7 1583.5h0M1041.8 1583.7h0M1021.5 1579.3h0M1064.3 1579.2h0M997.8 1584.0h0M1039.4 1579.4h0M920.1 1579.0h0M897.3 1581.0h0M1000.5 1583.2h0M956.2 1585.3h0M983.3 1585.1h0M1056.5 1581.8h0M1100.8 1577.7h0M975.4 1585.5h0M1064.3 1582.5h0M869.8 1577.7h0M889.0 1577.8h0M1096.4 1578.0h0M1086.0 1578.6h0M1070.5 1579.7h0M923.2 1582.3h0M1089.8 1578.0h0M1004.9 1583.9h0M912.9 1579.4h0M894.4 1578.0h0M921.9 1581.1h0M1018.3 1579.9h0M862.8 1577.6h0M1024.8 1579.6h0M935.9 1579.2h0M1053.3 1581.3h0M875.4 1577.4h0M956.1 1582.3h0M1015.3 1579.2h0M899.8 1580.4h0M959.6 1580.5h0M934.7 1584.1h0M935.9 1581.6h0M946.8 1581.0h0M1070.0 1582.2h0M948.4 1579.5h0M1036.9 1579.5h0M861.4 1577.6h0M963.0 1584.4h0M958.7 1584.7h0M972.0 1581.8h0M863.6 1577.7h0M1015.7 1585.0h0M881.6 1578.8h0M950.1 1581.7h0M895.5 1578.4h0M986.6 1586.5h0M886.4 1578.7h0M1055.6 1583.9h0M908.0 1578.0h0M1089.2 1579.5h0M977.3 1582.9h0M1085.1 1578.7h0M1079.7 1579.7h0M1060.4 1578.6h0M1051.0 1579.2h0M958.3 1584.4h0M1061.5 1578.7h0M913.0 1579.6h0M985.8 1586.0h0M889.9 1578.1h0M1036.1 1584.2h0M870.0 1578.0h0M1044.1 1578.2h0M1063.7 1578.3h0M1005.7 1583.3h0M1012.4 1580.8h0M962.1 1582.7h0M963.5 1583.3h0M968.6 1582.5h0M865.7 1577.7h0M978.9 1584.0h0M1045.5 1583.1h0M971.4 1581.7h0M975.0 1582.3h0M891.2 1578.8h0M882.3 1578.4h0M984.0 1585.0h0M1014.7 1579.2h0M1038.2 1583.3h0M984.3 1585.2h0M982.5 1585.2h0M1091.1 1578.1h0M1068.3 1582.4h0M1037.9 1583.6h0M907.1 1582.3h0M979.5 1586.3h0M1082.6 1578.2h0M1051.6 1583.9h0M875.9 1577.9h0M1043.8 1579.0h0M1077.9 1578.6h0M1058.2 1578.6h0M982.0 1586.3h0M910.6 1578.7h0M983.0 1585.2h0M869.0 1577.7h0M899.2 1581.4h0M1025.2 1584.6h0M901.0 1580.9h0M888.0 1579.0h0M1014.6 1581.1h0M1072.1 1580.0h0M1001.0 1585.7h0M885.4 1580.2h0M1013.0 1581.4h0M1053.8 1579.5h0M1100.7 1577.7h0M947.5 1583.4h0M967.5 1580.6h0M1040.7 1578.3h0M1059.2 1579.2h0M1015.3 1585.5h0M1002.4 1584.5h0M936.0 1577.8h0M868.2 1577.7h0M1009.7 1581.8h0M984.6 1586.4h0M892.1 1578.1h0M1018.7 1578.7h0M860.6 1577.5h0M885.8 1578.3h0M914.5 1580.6h0M1003.1 1581.9h0M1011.6 1582.0h0M892.7 1580.8h0M919.2 1578.4h0M883.3 1579.0h0M1071.7 1581.0h0M957.7 1580.3h0M862.8 1577.6h0M996.6 1584.2h0M1016.9 1581.7h0M1087.7 1579.3h0M920.4 1582.8h0M870.7 1578.0h0M958.7 1580.2h0M874.2 1578.6h0M863.0 1577.6h0M1088.6 1578.0h0M908.5 1580.5h0M983.2 1585.8h0M1057.7 1578.8h0M935.2 1579.8h0M871.8 1578.6h0M1050.3 1582.5h0M861.5 1577.6h0M1041.1 1581.1h0M1040.2 1581.1h0M914.9 1578.0h0M916.4 1577.7h0M941.5 1583.0h0M1028.9 1584.1h0M1032.9 1580.0h0M994.6 1584.9h0M1051.6 1581.2h0M924.5 1581.5h0M1094.5 1578.2h0M1073.9 1577.8h0M923.3 1579.0h0M1040.8 1584.4h0M1041.3 1580.2h0M1073.9 1579.0h0M918.1 1582.7h0M1013.3 1583.5h0M1021.7 1585.3h0M974.1 1585.5h0M1029.5 1584.2h0M966.2 1584.0h0M998.6 1583.6h0M911.5 1580.7h0M878.9 1579.3h0M895.1 1577.3h0M885.9 1580.1h0M943.8 1579.0h0M867.0 1577.8h0M1028.3 1582.7h0M1029.4 1583.3h0M876.0 1578.4h0M948.3 1583.8h0M1059.2 1583.0h0M876.0 1579.0h0M1082.2 1580.4h0M886.0 1577.8h0M887.2 1577.3h0M1066.0 1581.8h0M1014.1 1584.4h0M1013.5 1580.7h0M884.3 1577.5h0M1044.0 1579.3h0M937.6 1580.7h0M865.1 1577.7h0M928.7 1582.2h0M949.4 1580.4h0M1094.3 1578.2h0M1066.9 1580.7h0M867.5 1577.8h0M966.1 1584.3h0M944.3 1582.9h0M990.7 1585.4h0M1069.5 1578.1h0M1059.2 1578.7h0M860.3 1577.5h0M1045.2 1584.5h0M861.1 1577.5h0M979.4 1585.8h0M904.8 1579.7h0M944.4 1583.7h0M923.3 1583.3h0M928.9 1579.0h0M1030.0 1581.7h0M886.7 1579.2h0M879.7 1579.1h0M1029.4 1583.7h0M1012.6 1581.2h0M957.5 1581.2h0M1076.4 1578.0h0M1075.9 1577.8h0M910.1 1578.7h0M1079.0 1579.3h0M952.2 1584.4h0M916.8 1580.1h0M989.2 1586.3h0M1043.0 1582.3h0M944.7 1580.3h0M897.7 1580.9h0M1020.9 1583.6h0M901.2 1579.3h0M1047.9 1581.7h0M890.6 1578.9h0M1075.1 1578.6h0M906.6 1578.8h0M1030.9 1584.0h0M897.6 1577.9h0M920.2 1579.4h0M986.9 1586.1h0M939.7 1579.2h0M1097.0 1578.0h0M884.7 1580.1h0M884.7 1578.3h0M1099.1 1577.8h0M1038.2 1581.0h0M907.7 1580.6h0M886.0 1577.8h0M954.4 1578.6h0M957.0 1584.0h0M1028.5 1581.7h0M1013.7 1581.9h0M894.5 1579.6h0M958.3 1583.7h0M1080.6 1579.0h0M999.5 1585.2h0M962.3 1580.2h0M1035.5 1584.1h0M1048.1 1582.5h0M1067.1 1581.0h0M1015.9 1581.8h0M936.1 1582.0h0M883.8 1578.4h0M1050.1 1582.5h0M1013.0 1580.4h0M962.9 1581.9h0M1011.0 1581.6h0M1024.1 1584.8h0M904.5 1580.5h0M1049.1 1580.4h0M979.0 1586.3h0M869.3 1577.9h0M899.1 1580.7h0M1088.6 1578.7h0M884.6 1578.9h0M991.5 1586.0h0M984.5 1586.0h0M1061.4 1580.6h0M959.7 1585.2h0M911.1 1581.0h0M955.4 1583.7h0M889.7 1580.6h0M946.4 1578.5h0M926.7 1580.1h0M863.2 1577.6h0M962.2 1583.5h0M945.6 1579.9h0M914.5 1581.5h0M1088.4 1578.8h0M913.2 1581.8h0M955.2 1579.9h0M891.4 1580.1h0M1056.7 1581.7h0M974.0 1584.2h0M914.9 1582.8h0M945.8 1582.5h0M1059.0 1582.6h0M973.7 1582.9h0M993.2 1584.5h0M1062.6 1579.6h0M1066.7 1579.0h0M951.4 1580.0h0M963.5 1580.0h0M860.7 1577.5h0M928.3 1579.2h0M933.3 1580.9h0M964.1 1583.2h0M1020.2 1581.0h0M1085.7 1579.8h0M873.9 1578.7h0M1080.1 1580.2h0M894.1 1580.5h0M1013.9 1578.7h0M862.8 1577.6h0M1019.4 1580.2h0M884.7 1577.6h0M916.8 1581.8h0M944.2 1579.1h0M1079.7 1580.2h0M900.8 1581.4h0M1007.8 1584.5h0M1022.4 1584.6h0M1051.5 1583.3h0M908.0 1580.9h0M989.0 1586.3h0M966.6 1585.1h0M994.9 1584.4h0M916.9 1578.3h0M979.8 1583.7h0M973.5 1582.1h0M979.4 1584.9h0M991.1 1586.3h0M861.6 1577.6h0M973.7 1584.1h0M1021.7 1584.3h0M951.1 1581.2h0M1093.4 1578.1h0M1014.8 1583.1h0M866.9 1577.8h0M1025.9 1584.8h0M940.3 1584.6h0M984.1 1585.7h0M1078.1 1577.8h0M1034.5 1582.4h0M942.3 1583.8h0M949.0 1581.5h0M987.7 1586.5h0M911.2 1579.7h0M962.6 1582.5h0M1060.9 1579.4h0M1061.1 1580.0h0M982.4 1585.0h0M983.1 1586.4h0M1019.1 1584.0h0M940.4 1580.1h0M932.7 1581.6h0M1014.3 1584.1h0M869.7 1578.1h0M1075.2 1579.8h0M872.1 1577.7h0M861.5 1577.6h0M1083.9 1579.3h0M1019.9 1584.0h0M1081.1 1579.5h0M1009.9 1583.2h0M1029.2 1582.4h0M1025.5 1579.8h0M1022.1 1581.6h0M1045.3 1578.6h0M904.1 1577.4h0M1048.2 1583.9h0M1019.3 1581.1h0M1059.9 1582.3h0M996.6 1583.9h0M933.4 1580.5h0M937.4 1580.7h0M1015.9 1585.1h0M873.3 1578.2h0M869.6 1577.6h0M1056.9 1581.3h0M1083.2 1578.9h0M863.4 1577.6h0M1003.8 1585.7h0M1098.3 1577.9h0M960.2 1579.3h0M1016.6 1580.0h0M812.8 1584.6h0M859.6 1583.0h0M865.1 1583.0h0M1094.3 1581.2h0M1102.0 1576.8h0" stroke="#bcbcbc" stroke-width="7.4" stroke-linecap="round" fill="none"/>
<rect x="762.5" y="1274.6" width="383.2" height="326.3" fill="none" stroke="#000" stroke-width="2.2"/>
<line x1="748.6" y1="1586.5" x2="762.5" y2="1586.5" stroke="#000" stroke-width="2.4"/>
<text transform="translate(743.5 1600.0) scale(1 1.035)" text-anchor="end" stroke="#000" stroke-width="0.7">0</text>
<line x1="748.6" y1="1491.3" x2="762.5" y2="1491.3" stroke="#000" stroke-width="2.4"/>
<text transform="translate(743.5 1504.8) scale(1 1.035)" text-anchor="end" stroke="#000" stroke-width="0.7">10</text>
<line x1="748.6" y1="1396.1" x2="762.5" y2="1396.1" stroke="#000" stroke-width="2.4"/>
<text transform="translate(743.5 1409.6) scale(1 1.035)" text-anchor="end" stroke="#000" stroke-width="0.7">20</text>
<line x1="748.6" y1="1300.9" x2="762.5" y2="1300.9" stroke="#000" stroke-width="2.4"/>
<text transform="translate(743.5 1314.4) scale(1 1.035)" text-anchor="end" stroke="#000" stroke-width="0.7">30</text>
<line x1="778.2" y1="1600.9" x2="778.2" y2="1612.7" stroke="#000" stroke-width="2.4"/>
<text transform="translate(773.2 1649.8) scale(1 1.035)" text-anchor="middle" stroke="#000" stroke-width="0.7">-2</text>
<line x1="882.9" y1="1600.9" x2="882.9" y2="1612.7" stroke="#000" stroke-width="2.4"/>
<text transform="translate(877.9 1649.8) scale(1 1.035)" text-anchor="middle" stroke="#000" stroke-width="0.7">-1</text>
<line x1="987.6" y1="1600.9" x2="987.6" y2="1612.7" stroke="#000" stroke-width="2.4"/>
<text transform="translate(987.6 1649.8) scale(1 1.035)" text-anchor="middle" stroke="#000" stroke-width="0.7">0</text>
<line x1="1092.3" y1="1600.9" x2="1092.3" y2="1612.7" stroke="#000" stroke-width="2.4"/>
<text transform="translate(1094.3 1649.8) scale(1 1.035)" text-anchor="middle" stroke="#000" stroke-width="0.7">1</text>
<text transform="translate(945.6 1699.0) scale(1 1.035)" text-anchor="middle" stroke="#000" stroke-width="0.7">Log2 fold change</text>
<text transform="translate(692.0 1434.5) rotate(-90) scale(1 1.035)" text-anchor="middle" stroke="#000" stroke-width="0.7">-Log10 FDR</text>
<text transform="translate(812.0 1397.6) scale(1 1.035)" fill="#55a6f2" stroke="#55a6f2" stroke-width="0.7">336</text>
<text transform="translate(1053.0 1397.6) scale(1 1.035)" fill="#e8281e" stroke="#e8281e" stroke-width="0.7">188</text>
<text transform="translate(933.0 1446.0) scale(1 1.035)" stroke="#000" stroke-width="0.7">10586</text>
<circle cx="1200.5" cy="1329.4" r="13.5" fill="#55aaf5" stroke="none" stroke-width="0"/>
<text transform="translate(1232.0 1342.0) scale(1 1.035)" stroke="#000" stroke-width="0.7">Down</text>
<circle cx="1200.5" cy="1399.8" r="13.5" fill="#999999" stroke="none" stroke-width="0"/>
<text transform="translate(1232.0 1412.4) scale(1 1.035)" stroke="#000" stroke-width="0.7">NS</text>
<circle cx="1200.5" cy="1468.5" r="13.5" fill="#ee2a16" stroke="none" stroke-width="0"/>
<text transform="translate(1232.0 1481.1) scale(1 1.035)" stroke="#000" stroke-width="0.7">UP</text>
<text transform="translate(1355.0 1157.0) scale(1 1.035)" font-size="50" class="b">g</text>
<text transform="translate(1446.0 1236.4) scale(1 1.035)" stroke="#000" stroke-width="0.7">Ctrl vs Cis, 21h</text>
<text transform="translate(1724.5 1236.4) scale(1 1.035)" stroke="#000" stroke-width="0.7">RiboSeq</text>
<path d="M1658.6 1577.3h0M1635.3 1577.2h0M1625.8 1577.1h0M1837.8 1577.0h0M1754.9 1577.1h0M1711.1 1577.1h0M1650.6 1577.2h0M1626.8 1577.1h0M1610.6 1576.8h0M1700.6 1577.3h0M1693.9 1577.0h0M1665.9 1577.3h0M1620.6 1577.2h0M1693.5 1577.2h0M1684.5 1577.2h0M1721.4 1577.2h0M1815.1 1577.2h0M1639.0 1577.0h0M1825.5 1577.1h0M1651.0 1577.3h0M1740.3 1577.2h0M1810.4 1577.1h0M1688.8 1577.3h0M1637.3 1577.2h0M1628.6 1577.2h0M1768.9 1577.3h0M1801.7 1577.2h0M1651.9 1577.0h0M1728.7 1577.2h0M1622.6 1577.3h0M1723.7 1577.2h0M1657.0 1577.1h0M1608.8 1576.7h0M1667.9 1577.1h0M1693.4 1577.3h0M1812.8 1577.1h0M1697.9 1577.0h0M1759.9 1577.3h0M1652.8 1577.2h0M1675.6 1577.0h0M1783.3 1577.1h0M1645.5 1577.1h0M1659.8 1577.1h0M1709.5 1577.1h0M1742.5 1577.1h0M1628.1 1577.0h0M1630.7 1577.2h0M1689.6 1577.2h0M1723.1 1577.2h0M1833.4 1577.1h0M1609.9 1576.8h0M1695.6 1577.2h0M1778.6 1577.1h0M1829.9 1577.0h0M1799.9 1577.1h0M1809.0 1577.0h0M1829.9 1577.2h0M1835.8 1577.0h0M1647.2 1577.3h0M1708.4 1577.0h0M1746.5 1577.1h0M1715.8 1577.0h0M1634.3 1577.2h0M1711.0 1577.0h0M1708.0 1577.2h0M1772.0 1577.1h0M1697.4 1577.1h0M1658.3 1577.1h0M1709.5 1577.0h0M1774.2 1577.2h0M1747.9 1577.0h0M1690.5 1577.1h0M1627.7 1577.3h0M1781.3 1577.2h0M1769.6 1577.1h0M1659.2 1577.2h0M1778.6 1577.2h0M1607.6 1576.6h0M1816.9 1577.2h0M1821.2 1577.3h0M1657.9 1577.1h0M1733.0 1577.3h0M1691.7 1577.3h0M1803.3 1577.2h0M1751.0 1577.3h0M1787.7 1577.1h0M1802.2 1577.1h0M1691.8 1577.3h0M1802.5 1577.1h0M1673.4 1577.2h0M1801.5 1577.2h0M1823.2 1577.2h0M1796.5 1577.2h0M1690.0 1577.1h0M1719.7 1577.2h0M1800.5 1577.1h0M1621.9 1577.2h0M1668.8 1577.1h0M1633.2 1577.2h0M1669.6 1577.1h0M1792.6 1577.2h0M1670.3 1577.3h0M1701.5 1577.1h0M1830.0 1577.2h0M1779.4 1577.1h0M1794.7 1577.2h0M1798.5 1577.1h0M1787.1 1577.2h0M1696.0 1577.2h0M1787.0 1577.3h0M1819.5 1577.2h0M1637.7 1577.2h0M1764.9 1577.0h0M1713.3 1577.3h0M1816.1 1577.3h0M1627.5 1577.2h0M1806.7 1577.2h0M1680.2 1577.0h0M1819.4 1577.3h0M1757.6 1577.1h0M1798.2 1577.2h0M1774.1 1577.2h0M1680.1 1577.1h0M1688.9 1577.1h0M1726.7 1577.0h0M1773.4 1577.1h0M1643.1 1577.1h0M1696.3 1577.1h0M1787.5 1577.0h0M1657.6 1577.1h0M1647.0 1577.2h0M1631.3 1577.0h0M1735.0 1577.2h0M1797.4 1577.2h0M1681.8 1577.3h0M1776.8 1577.1h0M1736.6 1577.3h0M1837.4 1577.0h0M1636.8 1577.1h0M1700.6 1577.1h0M1782.8 1577.0h0M1811.9 1577.2h0M1748.4 1577.1h0M1823.3 1577.2h0M1814.0 1577.3h0M1766.6 1577.3h0M1719.6 1577.1h0M1801.8 1577.2h0M1677.6 1577.2h0M1716.4 1577.0h0M1800.4 1577.1h0M1831.4 1577.1h0M1823.3 1577.1h0M1656.5 1577.2h0M1783.9 1577.2h0M1756.2 1577.0h0M1697.4 1577.0h0M1692.2 1577.3h0M1686.5 1577.2h0M1750.2 1577.0h0M1765.7 1577.0h0M1648.8 1577.2h0M1635.6 1577.3h0M1704.7 1577.2h0M1829.9 1577.0h0M1837.8 1577.0h0M1745.5 1577.2h0M1834.7 1577.1h0M1825.6 1577.2h0M1716.6 1577.1h0M1660.7 1577.1h0M1686.3 1577.1h0M1793.5 1577.1h0M1751.9 1577.0h0M1638.6 1577.2h0M1812.6 1577.1h0M1613.5 1577.0h0M1689.6 1577.1h0M1736.3 1577.1h0M1756.1 1577.2h0M1787.7 1577.2h0M1741.5 1577.1h0M1801.2 1577.1h0M1805.5 1577.1h0M1752.0 1577.1h0M1757.7 1577.1h0M1740.2 1577.2h0M1689.8 1577.2h0M1711.9 1577.1h0M1695.0 1577.2h0M1770.6 1577.1h0M1639.9 1577.2h0M1626.5 1577.2h0M1782.1 1577.1h0M1753.6 1577.1h0M1810.5 1577.1h0M1632.8 1577.0h0M1772.7 1577.1h0M1678.9 1577.3h0M1776.8 1577.2h0M1739.6 1577.2h0M1608.6 1576.7h0M1682.3 1577.3h0M1702.2 1577.3h0M1606.1 1576.5h0M1628.2 1577.2h0M1717.7 1577.3h0M1772.3 1577.3h0M1816.1 1577.1h0M1640.3 1577.0h0M1770.6 1577.3h0M1760.3 1577.1h0M1744.6 1577.2h0M1664.7 1577.2h0M1652.2 1577.0h0M1620.9 1577.1h0M1767.5 1577.1h0M1698.1 1577.2h0M1667.0 1577.2h0M1745.9 1577.1h0M1654.4 1577.2h0M1768.6 1577.1h0M1793.3 1577.2h0M1807.0 1577.2h0M1720.7 1577.2h0M1679.0 1577.2h0M1625.1 1577.1h0M1723.4 1577.3h0M1764.7 1577.3h0M1807.7 1577.3h0M1749.3 1577.2h0M1714.8 1577.1h0M1790.8 1577.2h0M1643.5 1577.1h0M1657.2 1577.2h0M1744.6 1577.1h0M1765.5 1577.2h0M1667.9 1577.1h0M1836.3 1577.0h0M1660.9 1577.2h0M1800.9 1577.3h0M1698.6 1577.2h0M1633.5 1577.1h0M1804.8 1577.2h0M1709.6 1577.2h0M1719.1 1577.2h0M1811.1 1577.3h0M1652.5 1577.2h0M1825.2 1577.2h0M1722.1 1577.1h0M1718.3 1577.2h0M1747.8 1577.0h0M1837.7 1577.0h0M1733.0 1577.1h0M1752.5 1577.0h0M1683.8 1577.1h0M1678.6 1577.1h0M1642.7 1577.1h0M1790.6 1577.2h0M1831.1 1577.1h0M1716.8 1577.1h0M1782.9 1577.3h0M1731.5 1577.2h0M1766.3 1577.2h0M1723.9 1577.1h0M1710.1 1577.1h0M1792.2 1577.0h0M1633.3 1577.3h0M1724.4 1577.2h0M1818.5 1577.2h0M1737.4 1577.3h0M1750.8 1577.1h0M1648.4 1577.0h0M1789.8 1577.3h0M1688.8 1577.2h0M1763.4 1577.2h0M1669.9 1577.3h0M1734.0 1577.2h0M1765.7 1577.1h0M1768.7 1577.1h0M1733.1 1577.2h0M1752.0 1577.1h0M1648.1 1577.0h0M1634.7 1577.1h0M1718.6 1577.2h0M1769.8 1577.1h0M1784.1 1577.0h0M1686.8 1577.0h0M1725.8 1577.2h0M1741.3 1577.1h0M1691.4 1577.1h0M1630.6 1577.1h0M1718.9 1577.2h0M1629.3 1577.3h0M1612.4 1576.9h0M1709.9 1577.1h0M1726.7 1577.2h0M1744.0 1577.2h0M1715.1 1577.2h0M1703.0 1577.0h0M1623.2 1577.1h0M1709.0 1577.1h0M1736.1 1577.2h0M1819.3 1577.0h0M1828.2 1577.0h0M1812.3 1577.3h0M1690.7 1577.2h0M1723.2 1577.2h0M1804.9 1577.3h0M1675.7 1577.1h0M1818.6 1577.2h0M1815.2 1577.1h0M1803.0 1577.0h0M1640.0 1577.1h0M1821.2 1577.1h0M1708.1 1577.1h0M1623.3 1577.1h0M1721.3 1577.1h0M1775.5 1577.1h0M1833.3 1577.1h0M1740.3 1577.0h0M1735.9 1577.2h0M1756.8 1577.1h0M1774.2 1577.3h0M1768.9 1577.0h0M1751.7 1577.2h0M1732.5 1577.3h0M1618.2 1577.0h0M1773.6 1577.0h0M1637.9 1577.2h0M1689.9 1577.3h0M1791.8 1577.2h0M1689.3 1577.0h0M1832.4 1577.1h0M1818.8 1577.2h0M1671.2 1577.2h0M1703.3 1577.1h0M1632.2 1577.1h0M1640.4 1577.1h0M1832.7 1577.1h0M1811.5 1577.2h0M1783.0 1577.0h0M1750.0 1577.3h0M1789.5 1577.3h0M1751.7 1577.1h0M1610.8 1576.8h0M1798.3 1577.2h0M1750.6 1577.2h0M1674.5 1577.0h0M1811.8 1577.2h0M1612.3 1576.9h0M1773.3 1577.2h0M1636.4 1577.1h0M1773.8 1577.2h0M1686.3 1577.3h0M1676.1 1577.3h0M1637.5 1577.1h0M1836.2 1577.0h0M1781.6 1577.3h0M1751.5 1577.2h0M1797.4 1577.2h0M1828.3 1577.2h0M1606.3 1576.5h0M1811.3 1577.0h0M1609.5 1576.7h0M1767.0 1577.3h0M1829.3 1577.2h0M1768.3 1577.2h0M1803.1 1577.2h0M1635.9 1577.2h0M1617.7 1577.1h0M1683.4 1577.3h0M1657.2 1577.1h0M1737.0 1577.1h0M1711.2 1577.1h0M1773.4 1577.2h0M1741.1 1577.3h0M1719.9 1577.2h0M1628.0 1577.1h0M1680.9 1577.3h0M1721.6 1577.1h0M1760.7 1577.3h0M1798.6 1577.2h0M1760.5 1577.2h0M1736.3 1577.1h0M1679.5 1577.1h0M1684.2 1577.2h0M1805.9 1577.1h0M1696.8 1577.1h0M1717.8 1577.0h0M1750.5 1577.3h0M1817.5 1577.1h0M1645.2 1577.2h0M1781.3 1577.1h0M1620.1 1577.2h0M1694.1 1577.2h0M1737.0 1577.3h0M1635.2 1577.1h0M1614.0 1577.0h0M1624.3 1577.3h0M1747.5 1577.2h0M1668.0 1577.3h0M1632.5 1577.2h0M1798.5 1577.2h0M1617.4 1577.0h0M1672.3 1577.2h0M1637.8 1577.3h0M1811.5 1577.2h0M1809.4 1577.2h0M1643.1 1577.1h0M1611.6 1576.9h0M1835.5 1577.0h0M1760.1 1577.1h0M1762.5 1577.1h0M1817.9 1577.1h0M1668.4 1577.1h0M1623.4 1577.1h0M1777.4 1577.1h0M1709.7 1577.1h0M1797.3 1577.3h0M1700.9 1577.0h0M1705.2 1577.3h0M1757.1 1577.1h0M1630.4 1577.3h0M1624.4 1577.2h0M1744.2 1577.1h0M1708.5 1577.3h0M1837.4 1577.0h0M1613.2 1577.0h0M1617.7 1577.3h0M1624.7 1577.1h0M1804.8 1577.1h0M1660.2 1577.0h0M1658.6 1577.1h0M1802.6 1577.1h0M1734.2 1577.1h0M1700.6 1577.3h0M1632.5 1577.2h0M1678.7 1577.1h0M1773.1 1577.1h0M1719.4 1577.1h0M1718.4 1577.0h0M1697.1 1577.1h0M1703.3 1577.1h0M1710.1 1577.2h0M1623.1 1577.0h0M1730.1 1577.2h0M1791.4 1577.0h0M1608.2 1576.6h0M1656.0 1577.1h0M1674.2 1577.0h0M1736.1 1577.1h0M1719.0 1577.3h0M1710.4 1577.3h0M1673.9 1577.1h0M1699.4 1577.1h0M1774.7 1577.0h0M1773.8 1577.1h0M1700.7 1577.1h0M1639.6 1577.0h0M1834.8 1577.1h0M1820.5 1577.1h0M1810.7 1577.1h0M1741.5 1577.2h0M1677.1 1577.2h0M1815.6 1577.1h0M1612.7 1576.9h0M1787.2 1577.1h0M1800.7 1577.1h0M1710.8 1577.1h0M1627.9 1577.0h0M1754.0 1577.3h0M1648.6 1577.3h0M1681.7 1577.1h0M1615.7 1577.0h0M1739.6 1577.3h0M1753.5 1577.0h0M1759.5 1577.0h0M1715.0 1577.2h0M1695.9 1577.1h0M1680.3 1577.1h0M1609.6 1576.7h0M1696.9 1577.1h0M1678.1 1577.0h0M1715.1 1577.2h0M1750.1 1577.1h0M1835.5 1577.0h0M1651.6 1577.2h0M1701.7 1577.1h0M1774.3 1577.2h0M1737.3 1577.2h0M1703.8 1577.2h0M1835.2 1577.1h0M1713.9 1577.2h0M1783.1 1577.0h0M1632.7 1577.1h0M1760.8 1577.1h0M1614.1 1577.0h0M1641.8 1577.2h0M1826.2 1577.2h0M1737.9 1577.1h0M1612.2 1576.9h0M1726.9 1577.1h0M1700.7 1577.3h0M1692.4 1577.1h0M1708.4 1577.3h0M1615.7 1577.1h0M1835.5 1577.0h0M1679.7 1577.1h0M1766.5 1577.0h0M1826.5 1577.2h0M1817.4 1577.0h0M1610.1 1576.8h0M1714.4 1577.2h0M1750.4 1577.0h0M1823.2 1577.0h0M1649.2 1577.0h0M1694.4 1577.0h0M1771.7 1577.1h0M1635.2 1577.1h0M1796.7 1577.2h0M1621.8 1577.2h0M1720.2 1577.2h0M1779.8 1577.0h0M1768.0 1577.2h0M1818.5 1577.1h0M1657.7 1577.2h0M1837.3 1577.0h0M1743.9 1577.1h0M1819.9 1577.0h0M1755.3 1577.3h0M1736.2 1577.2h0M1705.5 1577.2h0M1655.8 1577.2h0M1638.1 1577.1h0M1634.0 1577.1h0M1607.4 1576.6h0M1817.9 1577.3h0M1615.7 1577.1h0M1636.8 1577.2h0M1609.0 1576.7h0M1711.4 1577.1h0M1702.2 1577.1h0M1718.3 1577.1h0M1830.5 1577.1h0M1621.2 1577.2h0M1716.5 1577.1h0M1829.3 1577.3h0M1701.1 1577.0h0M1810.5 1577.2h0M1820.7 1577.1h0M1660.3 1577.2h0M1728.2 1577.2h0M1638.5 1577.3h0M1730.7 1577.1h0M1745.7 1577.0h0M1798.2 1577.2h0M1653.1 1577.0h0M1729.7 1577.2h0M1661.4 1577.3h0M1747.2 1577.2h0M1830.7 1577.1h0M1768.9 1577.1h0M1687.0 1577.2h0M1826.6 1577.0h0M1698.7 1577.0h0M1701.8 1577.0h0M1792.3 1577.2h0M1829.0 1577.2h0M1686.5 1577.2h0M1643.1 1577.1h0M1630.5 1577.3h0M1760.6 1577.1h0M1730.8 1577.1h0M1812.1 1577.2h0M1769.6 1577.2h0M1641.1 1577.2h0M1802.9 1577.1h0M1607.1 1576.6h0M1610.3 1576.8h0M1716.7 1577.0h0M1806.6 1577.1h0M1708.7 1577.0h0M1727.7 1577.2h0M1769.9 1577.0h0M1642.0 1577.0h0M1677.1 1577.2h0M1803.4 1577.2h0M1735.9 1577.0h0M1672.7 1577.2h0M1776.7 1577.1h0M1710.8 1577.1h0M1728.1 1577.1h0M1690.7 1577.3h0M1747.1 1577.2h0M1804.7 1577.2h0M1666.0 1577.2h0M1749.1 1577.2h0M1768.9 1577.2h0M1673.8 1577.1h0" stroke="#bcbcbc" stroke-width="7.4" stroke-linecap="round" fill="none"/>
<path d="M1650.8 1551.6h0M1707.3 1538.2h0M1711.8 1564.2h0M1672.3 1540.3h0M1684.5 1563.8h0M1608.0 1559.3h0M1656.9 1562.2h0M1694.4 1563.5h0M1600.2 1568.6h0M1687.6 1541.5h0M1623.3 1559.5h0M1699.3 1568.5h0M1709.1 1543.7h0M1654.8 1543.9h0M1712.9 1566.2h0M1603.0 1571.4h0M1614.4 1555.3h0M1661.6 1545.1h0M1655.5 1557.9h0M1641.7 1552.5h0M1667.2 1561.7h0M1720.2 1564.4h0M1670.9 1551.4h0M1725.3 1574.3h0M1684.8 1547.5h0M1671.6 1540.6h0M1680.4 1565.8h0M1598.1 1571.3h0M1667.8 1555.7h0M1724.1 1573.6h0M1697.9 1551.3h0M1615.9 1561.2h0M1598.4 1562.1h0M1695.8 1526.3h0M1699.1 1561.7h0M1620.8 1562.4h0M1618.3 1562.2h0M1638.2 1559.2h0M1679.5 1568.0h0M1622.2 1532.2h0M1610.2 1572.7h0M1670.9 1543.1h0M1615.2 1566.2h0M1721.3 1571.0h0M1664.7 1547.3h0M1663.8 1546.9h0M1649.2 1567.2h0M1639.6 1554.6h0M1686.2 1568.9h0M1655.2 1548.4h0M1660.0 1562.9h0M1597.8 1563.9h0M1587.8 1570.5h0M1664.3 1549.8h0M1653.5 1561.1h0M1717.8 1536.3h0M1710.5 1562.0h0M1661.2 1547.5h0M1676.0 1551.5h0M1687.5 1542.1h0M1683.9 1556.1h0M1675.1 1537.0h0M1638.2 1556.2h0M1701.2 1558.2h0M1708.6 1539.8h0M1671.9 1555.3h0M1595.7 1568.9h0M1611.4 1554.0h0M1651.8 1548.6h0M1694.6 1564.9h0M1587.2 1571.2h0M1722.7 1572.8h0M1600.9 1562.6h0M1695.2 1543.9h0M1601.5 1572.1h0M1722.7 1572.8h0M1651.5 1557.2h0M1674.9 1550.4h0M1658.5 1558.0h0M1718.1 1566.0h0M1698.0 1533.0h0M1705.2 1545.9h0M1594.2 1566.6h0M1698.0 1564.7h0M1712.2 1570.6h0M1714.8 1562.2h0M1630.5 1565.0h0M1654.8 1568.7h0M1641.9 1556.6h0M1650.6 1562.2h0M1647.6 1558.6h0M1631.5 1563.7h0M1612.4 1567.3h0M1605.3 1563.2h0M1648.6 1567.1h0M1709.7 1553.3h0M1661.9 1546.1h0M1663.3 1569.2h0M1631.3 1563.1h0M1599.9 1563.5h0M1660.7 1546.1h0M1714.9 1560.5h0M1608.9 1570.2h0M1725.3 1574.4h0M1710.4 1552.9h0M1682.6 1549.3h0M1630.9 1556.5h0M1671.8 1560.2h0M1587.3 1568.8h0M1653.0 1564.7h0M1713.1 1561.3h0M1606.1 1568.2h0M1618.5 1568.4h0M1634.7 1563.4h0M1716.0 1562.8h0M1695.0 1539.3h0M1604.8 1566.3h0M1712.3 1558.5h0M1682.0 1568.0h0M1725.9 1574.7h0M1655.5 1537.1h0M1641.8 1564.6h0M1721.0 1572.7h0M1721.0 1571.2h0M1710.4 1572.2h0M1612.1 1571.8h0M1661.6 1572.2h0M1610.3 1545.4h0M1667.3 1568.1h0M1625.7 1559.5h0M1591.0 1571.4h0M1649.6 1549.5h0M1610.2 1566.1h0M1614.0 1564.8h0M1667.3 1566.9h0M1715.1 1566.1h0M1720.5 1570.6h0M1653.5 1569.1h0M1675.0 1571.8h0M1658.9 1562.6h0M1718.9 1567.8h0M1613.7 1551.5h0M1629.6 1557.2h0M1588.1 1568.8h0M1629.5 1556.7h0M1675.1 1553.8h0M1675.4 1570.3h0M1663.4 1537.1h0M1615.4 1555.5h0M1703.6 1548.7h0M1664.1 1547.2h0M1684.8 1571.0h0M1594.3 1568.4h0M1704.5 1560.7h0M1711.6 1563.2h0M1711.1 1529.7h0M1629.8 1558.8h0M1697.7 1563.3h0M1600.5 1570.5h0M1681.2 1549.4h0M1649.3 1530.1h0M1643.1 1554.2h0M1676.7 1562.0h0M1645.2 1546.1h0M1640.6 1572.3h0M1720.0 1569.7h0M1590.2 1566.8h0M1602.6 1561.8h0M1671.5 1551.5h0M1721.7 1572.7h0M1659.8 1549.9h0M1690.3 1544.4h0M1652.2 1559.7h0M1691.3 1548.3h0M1681.4 1555.8h0M1668.7 1557.8h0M1598.4 1570.2h0M1687.4 1555.0h0M1668.3 1548.4h0M1676.5 1558.7h0M1717.5 1566.0h0M1625.9 1555.3h0M1721.1 1572.3h0M1609.8 1544.7h0M1657.5 1560.2h0M1693.5 1564.6h0M1608.7 1568.2h0M1630.6 1570.5h0M1631.6 1571.1h0M1720.5 1572.2h0M1671.2 1545.5h0M1643.8 1568.6h0M1649.3 1547.1h0M1702.4 1556.0h0M1597.2 1571.4h0M1626.2 1559.3h0M1593.5 1565.7h0M1598.2 1562.1h0M1692.4 1545.7h0M1638.1 1566.6h0M1722.3 1572.4h0M1661.2 1565.1h0M1623.7 1567.2h0M1621.7 1567.9h0M1611.7 1551.1h0M1604.8 1567.1h0M1699.2 1555.4h0M1700.0 1547.1h0M1699.2 1570.2h0M1597.8 1565.5h0M1651.0 1553.6h0M1648.7 1571.4h0M1673.7 1560.4h0M1608.0 1548.0h0M1623.4 1569.5h0M1603.1 1561.0h0M1710.9 1555.1h0M1596.1 1563.8h0M1686.0 1559.0h0M1653.1 1554.7h0M1676.5 1556.9h0M1622.4 1570.9h0M1665.4 1563.0h0M1586.2 1572.5h0M1690.5 1567.4h0M1718.2 1567.7h0M1633.3 1550.8h0M1597.6 1558.4h0M1586.9 1572.3h0M1685.8 1531.4h0M1612.6 1567.0h0M1662.2 1572.4h0M1615.4 1559.2h0M1599.2 1560.8h0M1702.3 1556.0h0M1624.4 1568.9h0M1662.9 1565.9h0M1606.1 1551.0h0M1705.3 1562.5h0M1716.3 1569.2h0M1610.8 1563.7h0M1685.2 1541.9h0M1613.1 1568.4h0M1682.4 1550.9h0M1688.0 1555.4h0M1613.5 1563.5h0M1652.0 1559.1h0M1651.9 1566.5h0M1632.9 1566.2h0M1604.9 1559.4h0M1622.1 1556.7h0M1624.6 1571.9h0M1721.6 1572.3h0M1702.1 1545.8h0M1607.3 1557.5h0M1592.7 1569.6h0M1595.4 1572.8h0M1644.1 1570.0h0M1679.2 1547.3h0M1688.0 1540.2h0M1592.7 1566.8h0M1623.6 1561.6h0M1615.1 1556.6h0M1642.8 1551.9h0M1658.3 1546.9h0M1652.3 1552.3h0M1691.3 1549.8h0M1663.6 1562.6h0M1718.9 1569.5h0M1719.5 1567.1h0M1603.0 1563.8h0M1640.5 1558.4h0M1653.6 1571.0h0M1720.0 1570.5h0M1724.8 1574.0h0M1602.0 1565.0h0M1629.3 1571.8h0M1640.3 1557.9h0M1668.4 1549.3h0M1594.3 1571.4h0M1633.4 1554.5h0M1673.2 1571.0h0M1680.9 1560.0h0M1713.3 1559.9h0M1603.1 1559.0h0M1705.2 1555.6h0M1692.4 1560.4h0M1641.0 1557.4h0M1600.0 1550.4h0M1695.2 1565.4h0M1617.7 1560.2h0M1707.0 1539.7h0M1677.5 1542.1h0M1601.8 1562.2h0M1657.6 1536.0h0M1651.2 1557.1h0M1704.7 1568.2h0M1620.5 1564.9h0M1680.1 1564.1h0M1593.1 1568.8h0M1672.7 1564.2h0M1597.4 1561.2h0M1723.0 1572.9h0M1593.8 1566.0h0M1669.9 1563.5h0M1661.7 1545.6h0M1593.6 1568.2h0M1692.9 1535.0h0M1659.4 1548.3h0M1625.7 1553.7h0M1703.6 1562.2h0M1620.4 1570.8h0M1588.5 1572.4h0M1693.7 1563.0h0M1691.7 1560.6h0M1673.3 1567.5h0M1706.0 1555.4h0M1668.4 1539.7h0M1717.3 1569.2h0M1717.2 1572.5h0M1598.7 1564.7h0M1636.4 1568.8h0M1668.4 1558.3h0M1657.8 1550.5h0M1686.7 1539.6h0M1720.0 1572.1h0M1693.4 1558.6h0M1619.8 1570.8h0M1690.9 1553.5h0M1590.9 1572.6h0M1630.5 1555.9h0M1720.6 1570.0h0M1684.1 1554.3h0M1667.9 1563.8h0M1652.2 1563.8h0M1694.6 1563.9h0M1694.3 1553.1h0M1613.7 1568.3h0M1643.5 1542.6h0M1676.7 1546.9h0M1710.0 1568.1h0M1606.7 1565.9h0M1586.8 1569.8h0M1607.2 1561.4h0M1666.5 1550.3h0M1593.0 1571.9h0M1699.2 1547.2h0M1649.4 1535.6h0M1701.9 1569.5h0M1703.2 1559.5h0M1708.2 1543.9h0M1724.2 1573.6h0M1639.2 1559.2h0M1709.5 1550.7h0M1701.0 1566.1h0M1656.3 1561.2h0M1635.4 1572.5h0M1662.6 1562.0h0M1680.6 1570.7h0M1644.9 1563.0h0M1714.4 1563.6h0M1590.8 1570.1h0M1633.2 1558.0h0M1599.0 1566.9h0M1647.2 1559.4h0M1691.5 1555.1h0M1651.1 1565.1h0M1707.4 1566.9h0M1721.6 1571.9h0M1723.5 1573.2h0M1705.6 1568.0h0M1642.9 1563.7h0M1672.0 1554.9h0M1680.3 1544.2h0M1705.9 1554.2h0M1591.4 1567.0h0M1613.3 1566.7h0M1716.5 1571.0h0M1662.4 1543.0h0M1602.5 1563.2h0M1671.5 1544.7h0M1617.8 1563.2h0M1678.8 1556.1h0M1681.6 1561.1h0M1696.4 1545.7h0M1587.5 1568.9h0M1623.6 1561.2h0M1615.1 1571.5h0M1664.7 1572.9h0M1675.7 1563.6h0M1699.3 1572.9h0M1662.9 1563.4h0M1599.1 1572.2h0M1606.3 1562.5h0M1672.5 1552.7h0M1665.6 1543.1h0M1644.7 1570.1h0M1710.2 1555.6h0M1701.1 1564.8h0M1679.4 1553.9h0M1666.0 1564.5h0M1709.0 1565.8h0M1600.3 1562.1h0M1626.6 1561.1h0M1712.8 1543.9h0M1619.6 1563.3h0M1648.3 1549.6h0M1669.2 1542.8h0M1625.4 1567.7h0M1590.7 1563.2h0M1618.1 1569.6h0M1712.7 1572.2h0M1619.5 1557.2h0M1662.2 1562.8h0M1723.5 1573.2h0M1712.2 1557.9h0M1641.3 1551.8h0M1700.2 1559.2h0M1602.6 1561.1h0M1710.4 1551.1h0M1649.1 1569.6h0M1611.0 1562.8h0M1647.6 1572.0h0M1641.7 1553.3h0M1653.4 1568.7h0M1675.8 1572.9h0M1636.4 1553.8h0M1599.8 1570.2h0M1691.8 1546.0h0M1666.6 1551.5h0M1603.8 1558.1h0M1694.8 1565.6h0M1679.9 1550.1h0M1653.0 1568.6h0M1720.6 1570.7h0M1688.2 1571.9h0M1723.2 1573.0h0M1652.1 1553.2h0M1725.4 1574.4h0M1696.1 1549.2h0M1654.2 1534.8h0M1667.0 1554.1h0M1640.1 1557.5h0M1623.2 1568.3h0M1651.8 1557.5h0M1717.3 1570.7h0M1594.2 1567.8h0M1683.2 1543.0h0M1662.5 1550.1h0M1671.9 1543.6h0M1592.7 1566.9h0M1610.8 1569.4h0M1657.9 1570.3h0M1619.4 1567.1h0M1686.9 1544.2h0M1642.2 1562.3h0M1724.1 1573.6h0M1694.8 1547.7h0M1593.4 1569.2h0M1706.1 1557.9h0M1695.3 1559.0h0M1588.5 1570.1h0M1661.9 1566.9h0M1608.8 1559.5h0M1700.9 1535.2h0M1663.1 1554.0h0M1607.5 1561.1h0M1725.1 1574.3h0M1663.8 1551.6h0M1671.4 1541.8h0M1637.6 1571.7h0M1658.7 1556.0h0M1601.4 1568.4h0M1690.5 1568.1h0M1638.2 1553.2h0M1683.2 1543.9h0M1686.8 1539.8h0M1673.9 1565.1h0M1624.3 1555.7h0M1616.9 1571.1h0M1633.8 1571.6h0M1685.9 1550.4h0M1716.7 1560.8h0M1637.1 1563.5h0M1629.9 1569.4h0M1684.3 1540.0h0M1698.8 1553.8h0M1714.8 1571.7h0M1697.0 1567.9h0M1629.3 1563.2h0M1674.0 1538.3h0M1679.3 1566.3h0M1658.0 1551.4h0M1608.9 1564.8h0M1716.6 1566.0h0M1619.3 1555.5h0M1716.5 1571.7h0M1612.3 1564.4h0M1647.3 1557.1h0M1682.3 1571.8h0M1695.4 1560.7h0M1688.3 1542.9h0M1599.4 1571.7h0M1637.0 1557.2h0M1677.6 1564.1h0M1653.4 1558.8h0M1718.9 1571.5h0M1679.6 1553.6h0M1633.3 1570.3h0M1615.7 1560.6h0M1627.9 1570.2h0M1649.5 1552.6h0M1690.8 1570.8h0M1644.7 1551.3h0M1696.9 1535.7h0M1657.6 1555.9h0M1602.0 1567.3h0M1653.4 1547.6h0M1651.4 1570.5h0M1699.9 1551.7h0M1636.3 1380.3h0M1520.4 1567.8h0M1532.0 1568.5h0M1540.6 1570.0h0M1550.0 1571.1h0M1556.6 1571.8h0M1575.3 1573.3h0M1579.6 1572.6h0M1588.4 1574.4h0M1592.2 1547.0h0M1592.8 1557.9h0M1598.3 1557.3h0M1618.7 1512.5h0M1637.4 1512.5h0M1653.2 1510.3h0M1664.8 1496.5h0M1669.7 1496.5h0M1667.5 1503.0h0M1663.0 1513.0h0M1658.7 1518.4h0M1694.9 1521.3h0M1677.3 1519.5h0M1632.3 1523.9h0M1624.6 1528.3h0M1622.5 1534.9h0M1623.5 1541.5h0M1630.0 1545.9h0M1646.6 1529.4h0M1651.7 1526.5h0M1651.0 1537.0h0M1645.5 1541.5h0M1669.7 1533.8h0M1680.6 1528.3h0M1687.2 1528.7h0M1610.4 1554.6h0M1614.8 1558.0h0M1606.0 1562.3h0M1700.0 1525.0h0M1697.0 1529.0h0M1618.8 1512.6h0M1637.4 1512.6h0M1653.0 1510.7h0M1664.2 1512.6h0M1659.0 1518.2h0M1676.4 1518.9h0M1695.0 1521.9h0M1696.9 1526.4h0M1687.6 1528.2h0M1680.1 1528.2h0M1670.9 1533.8h0M1648.6 1530.1h0M1646.7 1537.5h0M1643.0 1541.2h0M1622.5 1533.8h0M1624.4 1541.2h0M1630.0 1544.9h0M1592.8 1546.8h0M1594.6 1558.0h0M1600.2 1559.8h0M1607.7 1554.2h0M1613.2 1556.1h0M1618.8 1552.4h0" stroke="#acdbe2" stroke-width="7.4" stroke-linecap="round" fill="none"/>
<path d="M1772.5 1561.7h0M1748.2 1570.1h0M1778.0 1562.4h0M1756.3 1571.8h0M1800.8 1562.3h0M1774.6 1555.3h0M1779.4 1566.4h0M1778.5 1567.9h0M1799.8 1573.2h0M1737.4 1572.8h0M1797.1 1570.0h0M1794.2 1569.5h0M1763.5 1537.6h0M1790.6 1564.3h0M1762.0 1540.3h0M1788.9 1566.9h0M1791.4 1568.4h0M1759.4 1549.8h0M1786.1 1559.9h0M1788.2 1565.2h0M1762.0 1552.2h0M1775.5 1552.0h0M1764.8 1561.9h0M1789.1 1566.3h0M1757.6 1548.7h0M1781.9 1560.1h0M1739.8 1571.9h0M1760.5 1564.1h0M1750.6 1571.3h0M1769.1 1544.8h0M1767.0 1553.8h0M1762.5 1559.5h0M1767.1 1555.1h0M1798.9 1571.8h0M1734.7 1575.2h0M1740.7 1570.8h0M1800.5 1573.8h0M1763.5 1556.3h0M1782.8 1567.4h0M1762.7 1570.3h0M1744.7 1568.7h0M1780.2 1564.6h0M1789.7 1570.6h0M1798.5 1572.6h0M1782.3 1555.2h0M1795.2 1572.7h0M1799.8 1573.1h0M1743.9 1572.1h0M1747.3 1559.2h0M1747.4 1559.3h0M1801.0 1574.3h0M1784.0 1564.6h0M1762.7 1559.9h0M1752.2 1565.7h0M1776.2 1563.8h0M1792.7 1569.8h0M1739.2 1571.8h0M1738.2 1573.1h0M1785.0 1561.1h0M1780.7 1563.2h0M1752.0 1560.2h0M1782.8 1562.9h0M1766.2 1562.8h0M1782.4 1561.9h0M1787.3 1572.8h0M1782.4 1543.2h0M1790.1 1558.9h0M1755.9 1564.0h0M1753.3 1556.0h0M1740.8 1572.6h0M1749.1 1572.1h0M1747.2 1564.6h0M1799.3 1572.6h0M1747.9 1566.3h0M1769.3 1565.9h0M1798.0 1570.2h0M1780.5 1548.0h0M1791.7 1568.9h0M1745.9 1567.7h0M1792.0 1563.5h0M1795.7 1569.0h0M1760.9 1555.0h0M1744.2 1569.9h0M1775.1 1572.6h0M1746.1 1570.5h0M1757.3 1559.9h0M1747.4 1560.2h0M1796.5 1571.0h0M1772.4 1567.4h0M1758.5 1549.0h0M1737.9 1573.3h0M1737.8 1573.4h0M1758.5 1571.6h0M1737.3 1573.7h0M1757.5 1552.7h0M1761.5 1558.0h0M1786.2 1560.1h0M1793.0 1567.9h0M1768.6 1554.4h0M1740.8 1569.3h0M1741.6 1569.1h0M1753.8 1570.6h0M1757.5 1563.7h0M1774.9 1548.9h0M1745.0 1569.4h0M1740.9 1570.6h0M1772.9 1552.3h0M1758.1 1552.8h0M1791.8 1563.8h0M1788.4 1548.8h0M1757.0 1566.4h0M1758.3 1572.6h0M1745.9 1563.6h0M1789.1 1563.4h0M1775.4 1559.0h0M1771.1 1544.9h0M1736.3 1565.4h0M1799.6 1573.0h0M1735.5 1574.7h0M1776.0 1562.4h0M1738.0 1573.3h0M1756.8 1543.4h0M1767.0 1552.6h0M1739.2 1571.8h0M1765.1 1543.8h0M1769.4 1546.3h0M1742.5 1571.5h0M1788.3 1568.0h0M1784.6 1564.7h0M1781.9 1565.5h0M1777.5 1555.4h0M1754.8 1560.2h0M1791.6 1569.6h0M1742.2 1571.9h0M1746.2 1559.7h0M1775.0 1570.5h0M1789.4 1564.8h0M1779.0 1562.1h0M1760.4 1553.3h0M1748.6 1567.3h0M1771.9 1560.8h0M1744.4 1565.7h0M1796.9 1570.3h0M1779.3 1562.9h0M1759.8 1567.3h0M1795.3 1567.3h0M1800.4 1573.8h0M1778.3 1571.1h0M1782.6 1555.8h0M1758.9 1555.3h0M1784.3 1562.7h0M1780.9 1571.9h0M1750.6 1561.8h0M1791.9 1569.8h0M1788.9 1572.4h0M1800.2 1573.5h0M1791.3 1563.8h0M1778.2 1569.7h0M1748.4 1555.8h0M1745.9 1562.5h0M1756.7 1553.1h0M1766.7 1540.8h0M1779.3 1568.2h0M1792.8 1556.5h0M1765.0 1545.1h0M1790.3 1562.5h0M1765.2 1543.6h0M1759.7 1546.8h0M1789.5 1567.7h0M1794.3 1572.5h0M1784.6 1569.8h0M1760.7 1509.6h0M1776.6 1565.9h0M1754.4 1561.2h0M1749.6 1563.9h0M1754.6 1570.9h0M1774.3 1543.3h0M1776.5 1556.8h0M1750.1 1558.2h0M1786.3 1552.5h0M1789.9 1560.0h0M1800.5 1573.8h0M1736.4 1574.2h0M1750.8 1547.9h0M1764.7 1554.8h0M1779.7 1555.5h0M1737.3 1573.7h0M1750.4 1572.4h0M1766.0 1551.9h0M1771.2 1564.5h0M1774.2 1549.4h0M1766.6 1552.1h0M1782.8 1556.0h0M1773.1 1555.2h0M1747.7 1566.5h0M1782.7 1546.7h0M1745.2 1565.6h0M1760.4 1551.4h0M1797.3 1570.8h0M1792.8 1572.2h0M1767.0 1564.7h0M1778.3 1566.3h0M1750.8 1557.9h0M1761.4 1550.3h0M1762.6 1555.8h0M1749.9 1570.0h0M1766.5 1564.9h0M1788.2 1568.3h0M1783.6 1564.5h0M1787.4 1568.9h0M1777.0 1563.9h0M1795.6 1571.0h0M1794.4 1568.0h0M1791.7 1568.7h0M1796.0 1571.8h0M1750.6 1564.1h0M1762.5 1546.5h0M1738.4 1572.9h0M1753.0 1568.0h0M1770.1 1554.1h0M1793.7 1571.7h0M1788.6 1571.9h0M1784.7 1558.1h0M1761.3 1545.6h0M1774.2 1559.8h0M1738.9 1565.8h0M1752.4 1570.3h0M1738.3 1573.0h0M1794.1 1565.7h0M1763.6 1555.2h0M1770.1 1560.6h0M1758.5 1559.4h0M1756.6 1547.7h0M1800.7 1574.0h0M1799.7 1573.1h0M1759.5 1557.3h0M1752.8 1564.1h0M1745.7 1551.5h0M1785.3 1571.0h0M1745.1 1569.2h0M1779.1 1543.2h0M1745.7 1567.1h0M1738.5 1572.9h0M1785.0 1572.5h0M1739.3 1572.6h0M1790.9 1570.1h0M1750.9 1567.1h0M1772.7 1564.2h0M1737.8 1573.4h0M1757.0 1550.5h0M1756.7 1568.9h0M1770.2 1554.8h0M1793.8 1568.7h0M1746.6 1570.0h0M1760.3 1553.4h0M1757.1 1569.4h0M1763.5 1563.3h0M1746.2 1559.4h0M1771.3 1554.6h0M1747.3 1566.8h0M1780.7 1553.3h0M1794.8 1566.4h0M1786.2 1557.7h0M1771.6 1570.8h0M1773.7 1563.4h0M1787.7 1563.3h0M1772.9 1528.0h0M1744.0 1571.5h0M1766.4 1553.6h0M1772.3 1546.5h0M1791.9 1564.7h0M1780.9 1557.0h0M1768.5 1554.0h0M1757.2 1562.7h0M1773.3 1568.6h0M1735.0 1575.0h0M1752.6 1562.8h0M1783.1 1561.6h0M1734.7 1575.2h0M1772.6 1566.4h0M1736.4 1574.2h0M1774.7 1557.8h0M1788.5 1563.7h0M1797.9 1572.0h0M1753.9 1561.9h0M1737.6 1570.9h0M1762.9 1568.5h0M1771.5 1563.3h0M1787.6 1559.5h0M1749.7 1556.7h0M1796.2 1571.8h0M1737.6 1573.6h0M1768.7 1561.1h0M1754.2 1559.9h0M1771.5 1543.7h0M1739.2 1572.5h0M1789.8 1561.4h0M1756.3 1560.6h0M1755.9 1570.9h0M1740.7 1570.1h0M1776.9 1567.0h0M1798.7 1572.5h0M1781.9 1548.9h0M1792.8 1562.5h0M1770.1 1559.7h0M1793.2 1570.0h0M1770.7 1555.6h0M1795.6 1571.2h0M1795.4 1568.5h0M1798.3 1571.4h0M1776.2 1572.8h0M1762.1 1557.2h0M1749.5 1567.4h0M1754.5 1560.8h0M1735.9 1571.6h0M1781.1 1572.2h0M1758.6 1552.3h0M1795.7 1570.9h0M1738.4 1572.9h0M1750.1 1548.7h0M1789.0 1572.8h0M1770.6 1550.0h0M1787.5 1559.8h0M1785.3 1562.8h0M1752.2 1548.0h0M1754.4 1561.1h0M1743.0 1567.4h0M1754.0 1561.0h0M1763.4 1565.5h0M1794.1 1570.8h0M1788.4 1571.2h0M1772.4 1560.9h0M1793.3 1570.5h0M1751.7 1564.2h0M1789.3 1569.5h0M1752.7 1569.1h0M1738.4 1573.0h0M1781.2 1555.4h0M1743.2 1571.6h0M1794.0 1567.4h0M1816.6 1283.6h0M1815.8 1381.4h0M1789.0 1457.6h0M1780.0 1471.3h0M1824.4 1481.7h0M1825.1 1482.6h0M1780.5 1512.5h0M1779.4 1516.2h0M1782.7 1520.6h0M1790.0 1518.4h0M1766.9 1521.3h0M1801.4 1526.1h0M1814.1 1527.2h0M1824.4 1522.2h0M1775.5 1530.0h0M1784.4 1539.3h0M1786.0 1543.7h0M1795.9 1542.1h0M1810.8 1543.0h0M1800.3 1550.3h0M1797.0 1558.0h0M1810.6 1561.7h0M1803.6 1565.6h0M1812.3 1572.2h0M1805.8 1575.5h0M1834.3 1568.9h0M1832.1 1571.1h0M1844.2 1574.0h0M1863.3 1575.5h0" stroke="#f1200f" stroke-width="7.4" stroke-linecap="round" fill="none"/>
<rect x="1504.7" y="1269.0" width="375.1" height="323.2" fill="none" stroke="#000" stroke-width="2.2"/>
<line x1="1492.4" y1="1577.7" x2="1504.7" y2="1577.7" stroke="#000" stroke-width="2.4"/>
<text transform="translate(1487.5 1611.0) scale(1 1.035)" text-anchor="end" stroke="#000" stroke-width="0.7">0</text>
<line x1="1492.4" y1="1498.4" x2="1504.7" y2="1498.4" stroke="#000" stroke-width="2.4"/>
<text transform="translate(1487.5 1521.5) scale(1 1.035)" text-anchor="end" stroke="#000" stroke-width="0.7">50</text>
<line x1="1492.4" y1="1419.1" x2="1504.7" y2="1419.1" stroke="#000" stroke-width="2.4"/>
<text transform="translate(1487.5 1437.0) scale(1 1.035)" text-anchor="end" stroke="#000" stroke-width="0.7">100</text>
<line x1="1492.4" y1="1339.8" x2="1504.7" y2="1339.8" stroke="#000" stroke-width="2.4"/>
<text transform="translate(1487.5 1348.0) scale(1 1.035)" text-anchor="end" stroke="#000" stroke-width="0.7">150</text>
<line x1="1604.0" y1="1592.2" x2="1604.0" y2="1604.4" stroke="#000" stroke-width="2.4"/>
<line x1="1731.0" y1="1592.2" x2="1731.0" y2="1604.4" stroke="#000" stroke-width="2.4"/>
<line x1="1858.0" y1="1592.2" x2="1858.0" y2="1604.4" stroke="#000" stroke-width="2.4"/>
<text transform="translate(1594.6 1639.7) scale(1 1.035)" text-anchor="middle" stroke="#000" stroke-width="0.7">-5</text>
<text transform="translate(1733.0 1639.7) scale(1 1.035)" text-anchor="middle" stroke="#000" stroke-width="0.7">0</text>
<text transform="translate(1854.9 1639.7) scale(1 1.035)" text-anchor="middle" stroke="#000" stroke-width="0.7">5</text>
<text transform="translate(1683.8 1691.8) scale(1 1.035)" text-anchor="middle" stroke="#000" stroke-width="0.7">Log2 fold change</text>
<text transform="translate(1408.5 1439.0) rotate(-90) scale(1 1.035)" text-anchor="middle" stroke="#000" stroke-width="0.7">-Log10 FDR</text>
<text transform="translate(1541.5 1389.6) scale(1 1.035)" fill="#55a6f2" stroke="#55a6f2" stroke-width="0.7">1626</text>
<text transform="translate(1777.5 1362.0) scale(1 1.035)" fill="#e8281e" stroke="#e8281e" stroke-width="0.7">1274</text>
<text transform="translate(1705.0 1437.9) scale(1 1.035)" stroke="#000" stroke-width="0.7">8214</text>
<circle cx="1726.6" cy="1743.2" r="13.7" fill="#55aaf5" stroke="none" stroke-width="0"/>
<text transform="translate(1758.5 1756.0) scale(1 1.035)" stroke="#000" stroke-width="0.7">Down</text>
<circle cx="1726.6" cy="1812.0" r="13.7" fill="#999999" stroke="none" stroke-width="0"/>
<text transform="translate(1758.5 1824.8) scale(1 1.035)" stroke="#000" stroke-width="0.7">NS</text>
<circle cx="1726.6" cy="1881.5" r="13.7" fill="#ee2a16" stroke="none" stroke-width="0"/>
<text transform="translate(1758.5 1894.3) scale(1 1.035)" stroke="#000" stroke-width="0.7">UP</text>
<text transform="translate(42.0 1875.3) scale(1 1.035)" font-size="50" class="b">h</text>
<text transform="translate(966.9 1893.4) scale(1 1.035)" text-anchor="middle" stroke="#000" stroke-width="0.7">Ribosome Seq_TE</text>
<text transform="translate(961.7 1934.8) scale(1 1.035)" text-anchor="middle" stroke="#000" stroke-width="0.7">Cis vs Ctrl_Down</text>
<text transform="translate(484.0 2009.3) scale(1 1.035)" stroke="#000" stroke-width="0.7">Log2 FDR</text>
<path d="M674 2487V2026.7L1261.3 2021" stroke="#000" stroke-width="3.8" fill="none"/>
<line x1="835.5" y1="2025.1" x2="835.5" y2="2017.1" stroke="#000" stroke-width="3"/>
<line x1="956.0" y1="2023.9" x2="956.0" y2="2015.9" stroke="#000" stroke-width="3"/>
<line x1="1076.6" y1="2022.7" x2="1076.6" y2="2014.7" stroke="#000" stroke-width="3"/>
<line x1="1194.5" y1="2021.5" x2="1194.5" y2="2013.5" stroke="#000" stroke-width="3"/>
<text transform="translate(712.5 2012.0) scale(1 1.035)" text-anchor="middle" font-size="31" stroke="#000" stroke-width="0.7">0</text>
<text transform="translate(830.3 2008.2) scale(1 1.035)" text-anchor="middle" font-size="31" stroke="#000" stroke-width="0.7">-1</text>
<text transform="translate(953.2 2008.2) scale(1 1.035)" text-anchor="middle" font-size="31" stroke="#000" stroke-width="0.7">-2</text>
<text transform="translate(1074.5 2001.6) scale(1 1.035)" text-anchor="middle" font-size="31" stroke="#000" stroke-width="0.7">-3</text>
<text transform="translate(1189.5 2001.6) scale(1 1.035)" text-anchor="middle" font-size="31" stroke="#000" stroke-width="0.7">-4</text>
<text transform="translate(662.0 2066.5) scale(1 1.035)" text-anchor="end" font-size="33.6" stroke="#000" stroke-width="0.7" xml:space="preserve">cytoplasmic translation</text>
<text transform="translate(662.0 2112.5) scale(1 1.035)" text-anchor="end" fill="#4dbb2b" font-size="33.6" stroke="#4dbb2b" stroke-width="0.7" xml:space="preserve">protein transport </text>
<text transform="translate(662.0 2155.5) scale(1 1.035)" text-anchor="end" font-size="33.6" stroke="#000" stroke-width="0.7" xml:space="preserve">GPI anchor biosynthetic process</text>
<text transform="translate(662.0 2202.5) scale(1 1.035)" text-anchor="end" font-size="33.6" stroke="#000" stroke-width="0.7" xml:space="preserve">mito ATP synthesis coupled proton transport</text>
<text transform="translate(662.0 2249.8) scale(1 1.035)" text-anchor="end" font-size="33.6" stroke="#000" stroke-width="0.7" xml:space="preserve">translation</text>
<text transform="translate(662.0 2296.9) scale(1 1.035)" text-anchor="end" font-size="33.6" stroke="#000" stroke-width="0.7" xml:space="preserve">cellular response to oxidative stress</text>
<text transform="translate(662.0 2344.0) scale(1 1.035)" text-anchor="end" font-size="33.6" stroke="#000" stroke-width="0.7" xml:space="preserve">ATP synthesis coupled proton transport</text>
<text transform="translate(662.0 2388.3) scale(1 1.035)" text-anchor="end" font-size="33.6" stroke="#000" stroke-width="0.7" xml:space="preserve">cell cycle</text>
<text transform="translate(662.0 2432.2) scale(1 1.035)" text-anchor="end" fill="#4dbb2b" font-size="33.6" stroke="#4dbb2b" stroke-width="0.7" xml:space="preserve">vesicle-mediated transport</text>
<text transform="translate(662.0 2481.3) scale(1 1.035)" text-anchor="end" font-size="33.6" stroke="#000" stroke-width="0.7" xml:space="preserve">protein ubiquitination</text>
<rect x="700.7" y="2039.6" width="536.3" height="32.4" fill="#4cc820"/>
<rect x="700.7" y="2080" width="459.0" height="36.9" fill="#4cc820"/>
<rect x="700.7" y="2126.5" width="255.8" height="36.0" fill="#4cc820"/>
<rect x="700.7" y="2172.5" width="146.0" height="34.8" fill="#4cc820"/>
<rect x="700.7" y="2217.3" width="68.0" height="34.7" fill="#4cc820"/>
<rect x="700.7" y="2263.7" width="57.9" height="34.3" fill="#4cc820"/>
<rect x="700.7" y="2309.7" width="50.2" height="32.0" fill="#4cc820"/>
<rect x="700.7" y="2355.3" width="34.3" height="32.0" fill="#4cc820"/>
<rect x="700.7" y="2399.7" width="34.3" height="32.8" fill="#4cc820"/>
<rect x="700.7" y="2444" width="31.3" height="32.2" fill="#4cc820"/>
<text transform="translate(1354.0 1874.0) scale(1 1.035)" font-size="50" class="b">i</text>
<line x1="1476.7" y1="2025.8" x2="1476.7" y2="2173.4" stroke="#000" stroke-width="2.6"/>
<line x1="1476.7" y1="2190.5" x2="1476.7" y2="2337.8" stroke="#000" stroke-width="2.6"/>
<line x1="1469.7" y1="2336.6" x2="1956.4" y2="2336.6" stroke="#000" stroke-width="2.6"/>
<line x1="1467.7" y1="2027.0" x2="1476.7" y2="2027.0" stroke="#000" stroke-width="2.6"/>
<line x1="1467.7" y1="2104.0" x2="1476.7" y2="2104.0" stroke="#000" stroke-width="2.6"/>
<line x1="1467.7" y1="2264.5" x2="1476.7" y2="2264.5" stroke="#000" stroke-width="2.6"/>
<line x1="1467.7" y1="2336.6" x2="1476.7" y2="2336.6" stroke="#000" stroke-width="2.6"/>
<line x1="1469.0" y1="2173.4" x2="1483.0" y2="2173.4" stroke="#000" stroke-width="2.6"/>
<line x1="1469.0" y1="2190.5" x2="1483.0" y2="2190.5" stroke="#000" stroke-width="2.6"/>
<text transform="translate(1465.0 2037.0) scale(1 1.035)" text-anchor="end" font-size="34" stroke="#000" stroke-width="0.7">2000</text>
<text transform="translate(1465.0 2113.8) scale(1 1.035)" text-anchor="end" font-size="34" stroke="#000" stroke-width="0.7">1000</text>
<text transform="translate(1465.0 2203.4) scale(1 1.035)" text-anchor="end" font-size="34" stroke="#000" stroke-width="0.7">100</text>
<text transform="translate(1465.0 2277.4) scale(1 1.035)" text-anchor="end" font-size="34" stroke="#000" stroke-width="0.7">50</text>
<text transform="translate(1465.0 2345.5) scale(1 1.035)" text-anchor="end" font-size="34" stroke="#000" stroke-width="0.7">0</text>
<line x1="1507.4" y1="2336.6" x2="1507.4" y2="2347.5" stroke="#000" stroke-width="2.6"/>
<text transform="translate(1507.4 2386.4) scale(1 1.035)" text-anchor="middle" stroke="#000" stroke-width="0.7">1</text>
<line x1="1553.4" y1="2336.6" x2="1553.4" y2="2347.5" stroke="#000" stroke-width="2.6"/>
<text transform="translate(1553.4 2386.4) scale(1 1.035)" text-anchor="middle" stroke="#000" stroke-width="0.7">2</text>
<line x1="1600.1" y1="2336.6" x2="1600.1" y2="2347.5" stroke="#000" stroke-width="2.6"/>
<text transform="translate(1600.1 2386.4) scale(1 1.035)" text-anchor="middle" stroke="#000" stroke-width="0.7">3</text>
<line x1="1647.2" y1="2336.6" x2="1647.2" y2="2347.5" stroke="#000" stroke-width="2.6"/>
<text transform="translate(1647.2 2386.4) scale(1 1.035)" text-anchor="middle" stroke="#000" stroke-width="0.7">4</text>
<line x1="1693.6" y1="2336.6" x2="1693.6" y2="2347.5" stroke="#000" stroke-width="2.6"/>
<text transform="translate(1693.6 2386.4) scale(1 1.035)" text-anchor="middle" stroke="#000" stroke-width="0.7">5</text>
<line x1="1739.5" y1="2336.6" x2="1739.5" y2="2347.5" stroke="#000" stroke-width="2.6"/>
<text transform="translate(1739.5 2386.4) scale(1 1.035)" text-anchor="middle" stroke="#000" stroke-width="0.7">6</text>
<line x1="1785.3" y1="2336.6" x2="1785.3" y2="2347.5" stroke="#000" stroke-width="2.6"/>
<text transform="translate(1785.3 2386.4) scale(1 1.035)" text-anchor="middle" stroke="#000" stroke-width="0.7">7</text>
<line x1="1831.8" y1="2336.6" x2="1831.8" y2="2347.5" stroke="#000" stroke-width="2.6"/>
<text transform="translate(1831.8 2386.4) scale(1 1.035)" text-anchor="middle" stroke="#000" stroke-width="0.7">8</text>
<line x1="1878.5" y1="2336.6" x2="1878.5" y2="2347.5" stroke="#000" stroke-width="2.6"/>
<text transform="translate(1878.5 2386.4) scale(1 1.035)" text-anchor="middle" stroke="#000" stroke-width="0.7">9</text>
<line x1="1925.3" y1="2336.6" x2="1925.3" y2="2347.5" stroke="#000" stroke-width="2.6"/>
<text transform="translate(1927.3 2386.4) scale(1 1.035)" text-anchor="middle" stroke="#000" stroke-width="0.7">10</text>
<text transform="translate(1361.5 2204.4) rotate(-90) scale(1 1.035)" text-anchor="middle" stroke="#000" stroke-width="0.7">Expression of <tspan class="i">ire1α</tspan> (a.u.)</text>
<line x1="1510.5" y1="2418.7" x2="1925.0" y2="2418.7" stroke="#000" stroke-width="2.2"/>
<path d="M1921 2413.5L1934 2418.7L1921 2423.9Z" stroke="#000" stroke-width="0" fill="#000"/>
<text transform="translate(1482.0 2468.2) scale(1 1.035)" stroke="#000" stroke-width="0.7">10%</text>
<text transform="translate(1631.0 2466.2) scale(1 1.035)" stroke="#000" stroke-width="0.7">Fraction #</text>
<text transform="translate(1873.5 2468.2) scale(1 1.035)" stroke="#000" stroke-width="0.7">50%</text>
<line x1="1693.6" y1="2305.4" x2="1693.6" y2="2326.0" stroke="#000" stroke-width="2.4"/>
<line x1="1686.6" y1="2305.4" x2="1700.6" y2="2305.4" stroke="#000" stroke-width="2.4"/>
<line x1="1686.6" y1="2326.0" x2="1700.6" y2="2326.0" stroke="#000" stroke-width="2.4"/>
<line x1="1739.5" y1="2293.7" x2="1739.5" y2="2316.3" stroke="#000" stroke-width="2.4"/>
<line x1="1732.5" y1="2293.7" x2="1746.5" y2="2293.7" stroke="#000" stroke-width="2.4"/>
<line x1="1732.5" y1="2316.3" x2="1746.5" y2="2316.3" stroke="#000" stroke-width="2.4"/>
<line x1="1785.3" y1="2237.6" x2="1785.3" y2="2309.7" stroke="#000" stroke-width="2.4"/>
<line x1="1778.3" y1="2237.6" x2="1792.3" y2="2237.6" stroke="#000" stroke-width="2.4"/>
<line x1="1778.3" y1="2309.7" x2="1792.3" y2="2309.7" stroke="#000" stroke-width="2.4"/>
<line x1="1831.8" y1="2231.4" x2="1831.8" y2="2291.0" stroke="#000" stroke-width="2.4"/>
<line x1="1824.8" y1="2231.4" x2="1838.8" y2="2231.4" stroke="#000" stroke-width="2.4"/>
<line x1="1824.8" y1="2291.0" x2="1838.8" y2="2291.0" stroke="#000" stroke-width="2.4"/>
<line x1="1878.5" y1="2063.2" x2="1878.5" y2="2129.4" stroke="#000" stroke-width="2.4"/>
<line x1="1871.5" y1="2063.2" x2="1885.5" y2="2063.2" stroke="#000" stroke-width="2.4"/>
<line x1="1871.5" y1="2129.4" x2="1885.5" y2="2129.4" stroke="#000" stroke-width="2.4"/>
<line x1="1925.3" y1="2163.3" x2="1925.3" y2="2169.0" stroke="#000" stroke-width="2.4"/>
<line x1="1918.3" y1="2163.3" x2="1932.3" y2="2163.3" stroke="#000" stroke-width="2.4"/>
<line x1="1925.3" y1="2192.9" x2="1925.3" y2="2232.6" stroke="#000" stroke-width="2.4"/>
<line x1="1918.3" y1="2232.6" x2="1932.3" y2="2232.6" stroke="#000" stroke-width="2.4"/>
<line x1="1647.2" y1="2325.0" x2="1647.2" y2="2335.0" stroke="#000" stroke-width="2.4"/>
<line x1="1640.0" y1="2325.0" x2="1654.0" y2="2325.0" stroke="#000" stroke-width="2.4"/>
<path d="M1507.4 2336.6L1553.4 2336.6L1600.1 2335.9L1647.2 2330L1693.6 2315.5L1739.5 2304.6L1785.3 2273.5L1831.8 2261L1878.5 2096.3L1925.3 2169.1" stroke="#000" stroke-width="2.4" fill="none"/>
<line x1="1831.8" y1="2297.2" x2="1831.8" y2="2330.0" stroke="#e8432e" stroke-width="2.4"/>
<line x1="1824.8" y1="2297.2" x2="1838.8" y2="2297.2" stroke="#e8432e" stroke-width="2.4"/>
<line x1="1824.8" y1="2330.0" x2="1838.8" y2="2330.0" stroke="#e8432e" stroke-width="2.4"/>
<line x1="1925.3" y1="2311.6" x2="1925.3" y2="2333.0" stroke="#e8432e" stroke-width="2.4"/>
<line x1="1918.3" y1="2311.6" x2="1932.3" y2="2311.6" stroke="#e8432e" stroke-width="2.4"/>
<line x1="1918.3" y1="2333.0" x2="1932.3" y2="2333.0" stroke="#e8432e" stroke-width="2.4"/>
<path d="M1507.4 2336.6L1553.4 2336.6L1600.1 2336.6L1647.2 2336.6L1693.6 2336.6L1739.5 2333L1785.3 2331.9L1831.8 2313.6L1878.5 2309.3L1925.3 2322.1" stroke="#e8432e" stroke-width="2.4" fill="none"/>
<path d="M1507.4 2336.6h0M1553.4 2336.6h0M1600.1 2335.9h0M1647.2 2330.0h0M1693.6 2315.5h0M1739.5 2304.6h0M1785.3 2273.5h0M1831.8 2261.0h0M1878.5 2096.3h0M1925.3 2169.1h0" stroke="#000" stroke-width="12.4" stroke-linecap="round" fill="none"/>
<path d="M1507.4 2336.6h0M1553.4 2336.6h0M1600.1 2336.6h0M1647.2 2336.6h0M1693.6 2336.6h0M1739.5 2333.0h0M1785.3 2331.9h0M1831.8 2313.6h0M1878.5 2309.3h0M1925.3 2322.1h0" stroke="#e8432e" stroke-width="12.4" stroke-linecap="round" fill="none"/>
<rect x="1836" y="2174.5" width="20" height="15" fill="#fff"/>
<line x1="1520.3" y1="2059.3" x2="1542.9" y2="2059.3" stroke="#000" stroke-width="2.4"/>
<path d="M1531.2 2059.3h0" stroke="#000" stroke-width="12.4" stroke-linecap="round" fill="none"/>
<line x1="1520.3" y1="2090.5" x2="1542.9" y2="2090.5" stroke="#e8432e" stroke-width="2.4"/>
<path d="M1531.2 2090.5h0" stroke="#e8432e" stroke-width="12.4" stroke-linecap="round" fill="none"/>
<text transform="translate(1552.0 2068.3) scale(1 1.035)" stroke="#000" stroke-width="0.7">Ctrl</text>
<text transform="translate(1552.0 2102.0) scale(1 1.035)" stroke="#000" stroke-width="0.7">Cis</text></svg></body></html>
